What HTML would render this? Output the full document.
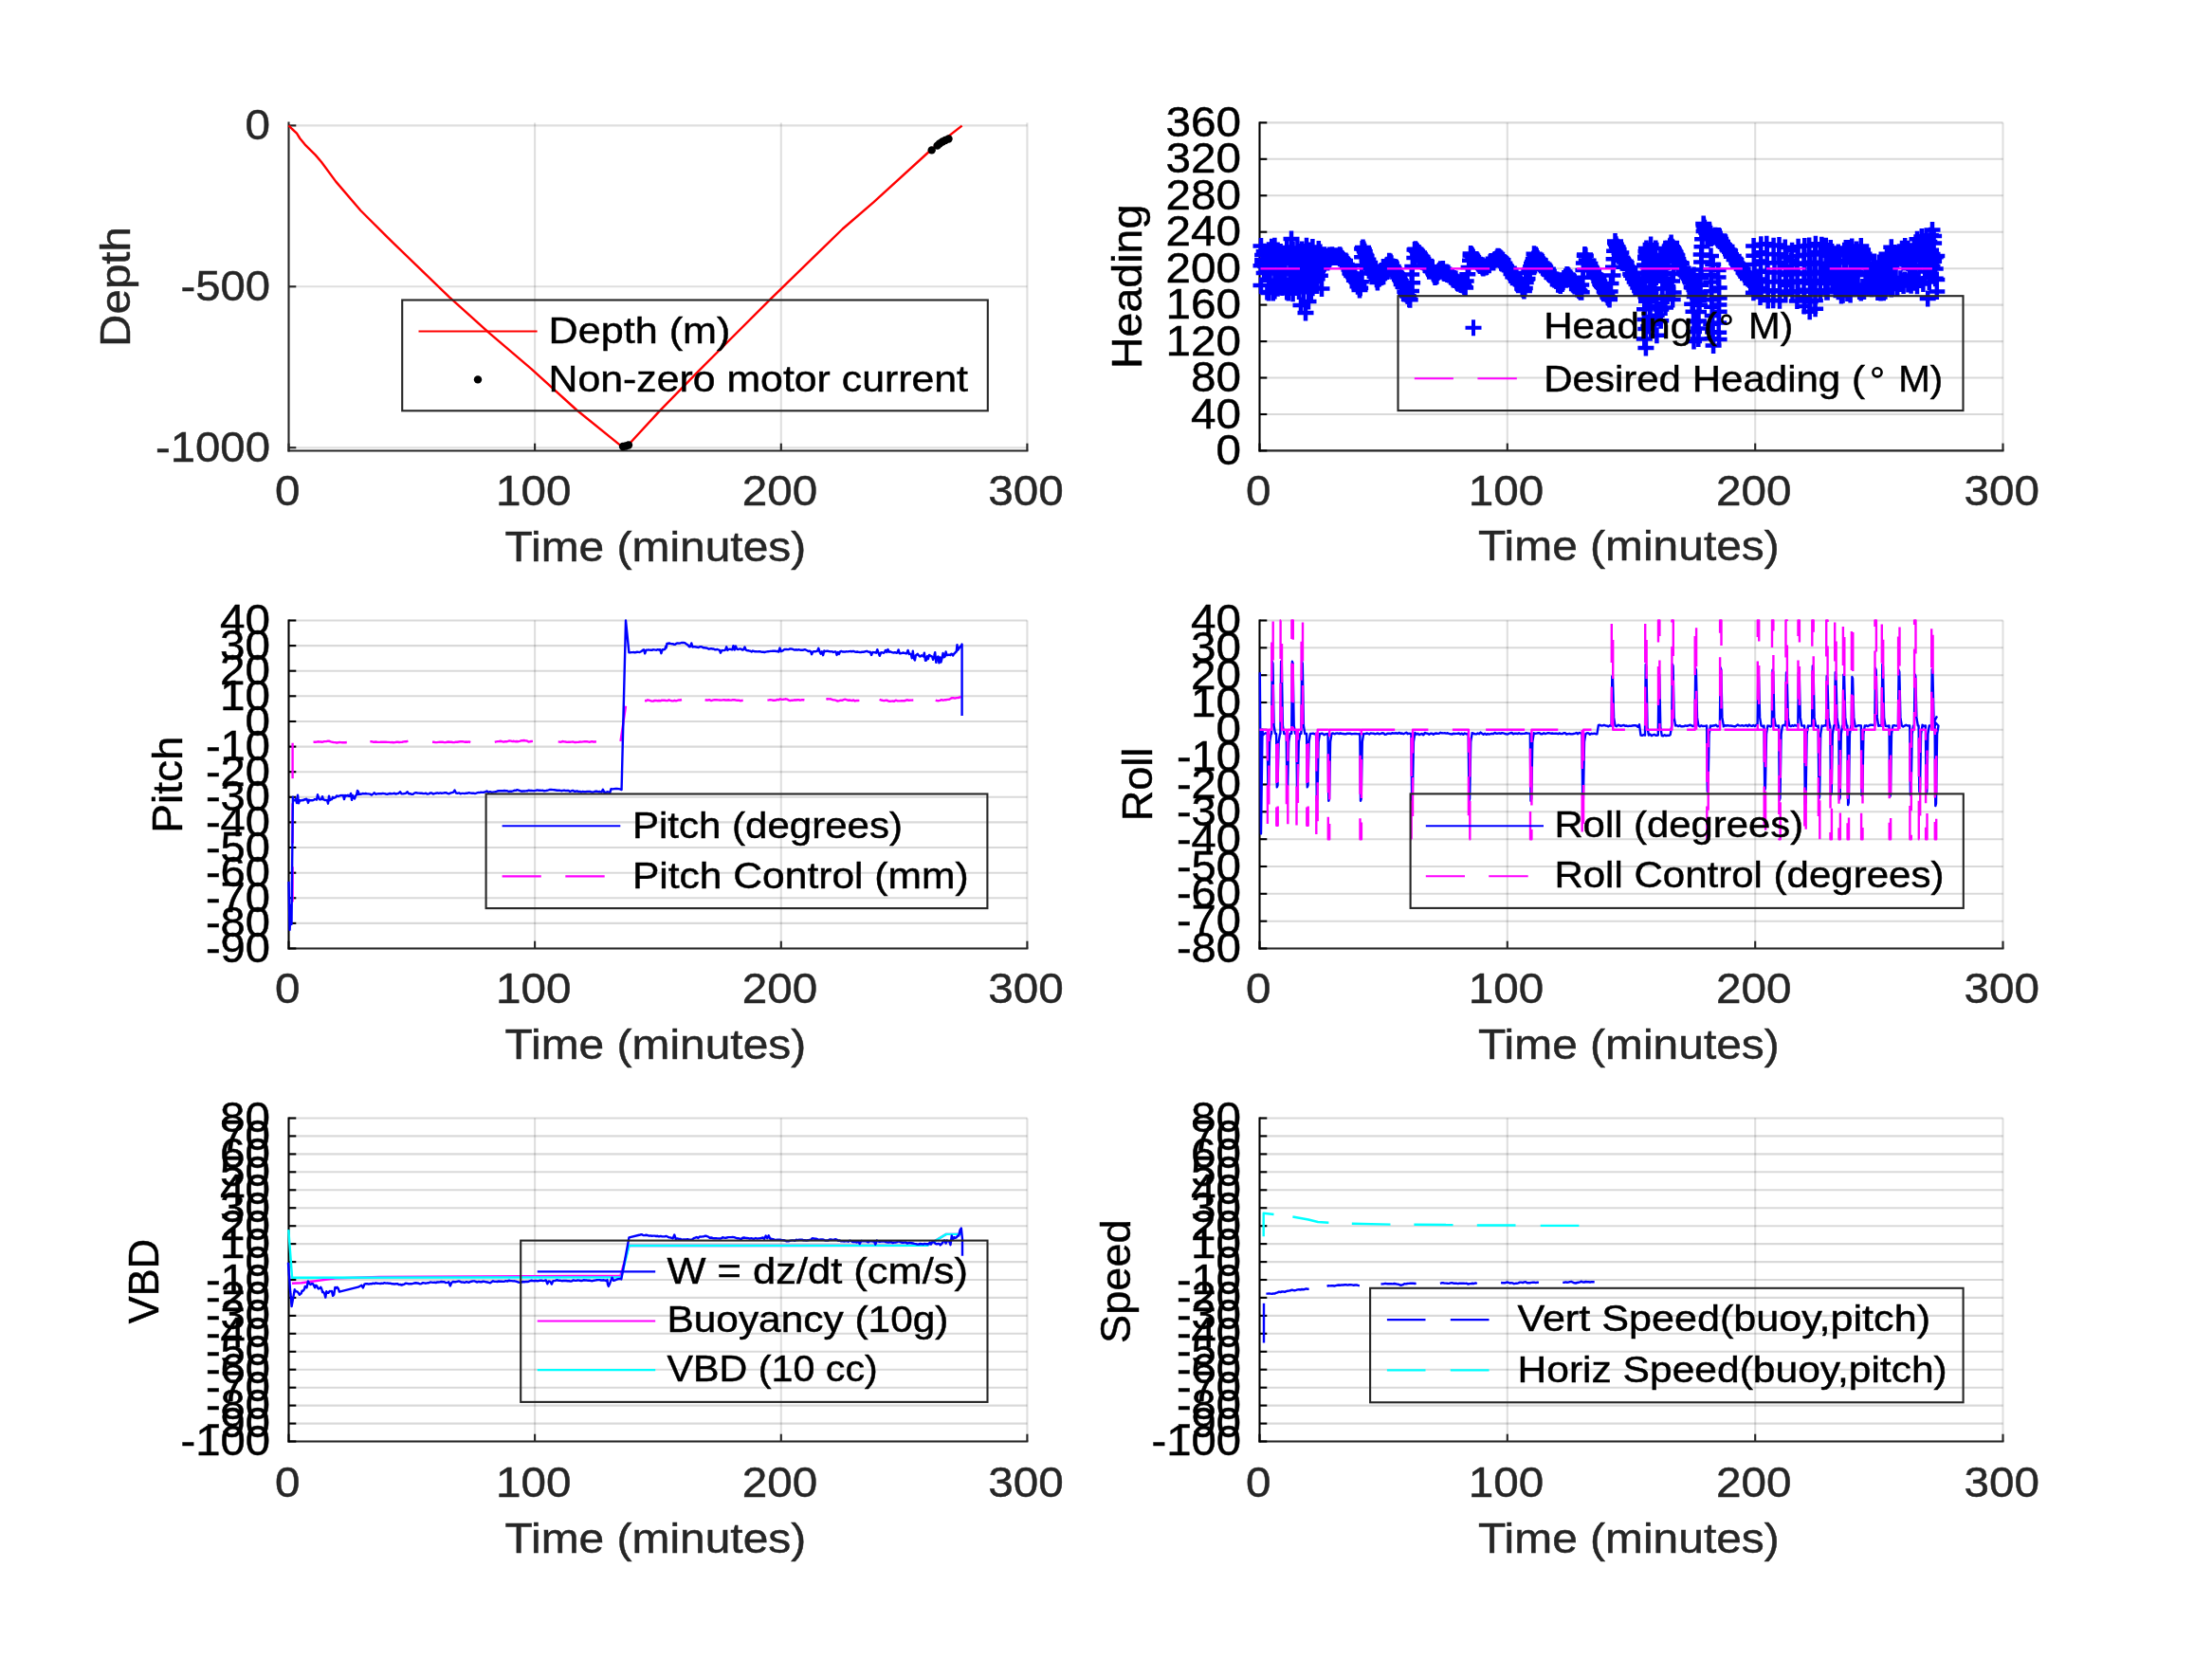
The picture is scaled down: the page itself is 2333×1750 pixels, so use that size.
<!DOCTYPE html>
<html><head><meta charset="utf-8"><style>html,body{margin:0;padding:0;background:#fff;width:2333px;height:1750px;overflow:hidden}svg{display:block}text{font-family:"Liberation Sans",sans-serif}</style></head><body>
<svg style="will-change:transform" width="2333" height="1750" viewBox="0 0 2333 1750" font-family="Liberation Sans, sans-serif">
<rect width="2333" height="1750" fill="#fff"/>
<line x1="564.1" y1="129.4" x2="564.1" y2="475.5" stroke="#262626" stroke-width="2.1" stroke-opacity="0.15"/>
<line x1="823.8" y1="129.4" x2="823.8" y2="475.5" stroke="#262626" stroke-width="2.1" stroke-opacity="0.15"/>
<line x1="1083.4" y1="129.4" x2="1083.4" y2="475.5" stroke="#262626" stroke-width="2.1" stroke-opacity="0.15"/>
<line x1="304.5" y1="132.4" x2="1083.4" y2="132.4" stroke="#262626" stroke-width="2.1" stroke-opacity="0.15"/>
<line x1="304.5" y1="302.3" x2="1083.4" y2="302.3" stroke="#262626" stroke-width="2.1" stroke-opacity="0.15"/>
<line x1="304.5" y1="472.2" x2="1083.4" y2="472.2" stroke="#262626" stroke-width="2.1" stroke-opacity="0.15"/>
<line x1="303.5" y1="475.5" x2="1084.4" y2="475.5" stroke="#262626" stroke-width="2.1"/>
<line x1="304.5" y1="475.5" x2="304.5" y2="467.7" stroke="#262626" stroke-width="2.1"/>
<text x="289.9" y="533" font-size="44.2" fill="#262626" stroke="#262626" stroke-width="0.45" textLength="26.5" lengthAdjust="spacingAndGlyphs">0</text>
<line x1="564.1" y1="475.5" x2="564.1" y2="467.7" stroke="#262626" stroke-width="2.1"/>
<text x="523.1" y="533" font-size="44.2" fill="#262626" stroke="#262626" stroke-width="0.45" textLength="79.5" lengthAdjust="spacingAndGlyphs">100</text>
<line x1="823.8" y1="475.5" x2="823.8" y2="467.7" stroke="#262626" stroke-width="2.1"/>
<text x="782.7" y="533" font-size="44.2" fill="#262626" stroke="#262626" stroke-width="0.45" textLength="79.5" lengthAdjust="spacingAndGlyphs">200</text>
<line x1="1083.4" y1="475.5" x2="1083.4" y2="467.7" stroke="#262626" stroke-width="2.1"/>
<text x="1042.3" y="533" font-size="44.2" fill="#262626" stroke="#262626" stroke-width="0.45" textLength="79.5" lengthAdjust="spacingAndGlyphs">300</text>
<text x="532.5" y="591.5" font-size="44.2" fill="#262626" stroke="#262626" stroke-width="0.45" textLength="317.7" lengthAdjust="spacingAndGlyphs">Time (minutes)</text>
<line x1="304.5" y1="128.4" x2="304.5" y2="476.5" stroke="#262626" stroke-width="2.1"/>
<line x1="304.5" y1="132.4" x2="312.3" y2="132.4" stroke="#262626" stroke-width="2.1"/>
<text x="258.5" y="146.9" font-size="44.2" fill="#262626" stroke="#262626" stroke-width="0.45" textLength="26.5" lengthAdjust="spacingAndGlyphs">0</text>
<line x1="304.5" y1="302.3" x2="312.3" y2="302.3" stroke="#262626" stroke-width="2.1"/>
<text x="190.4" y="316.8" font-size="44.2" fill="#262626" stroke="#262626" stroke-width="0.45" textLength="94.6" lengthAdjust="spacingAndGlyphs">-500</text>
<line x1="304.5" y1="472.2" x2="312.3" y2="472.2" stroke="#262626" stroke-width="2.1"/>
<text x="163.9" y="486.7" font-size="44.2" fill="#262626" stroke="#262626" stroke-width="0.45" textLength="121.1" lengthAdjust="spacingAndGlyphs">-1000</text>
<text transform="translate(137 302.4) rotate(-90)" x="-63.5" y="0" font-size="44.2" fill="#262626" stroke="#262626" stroke-width="0.45" textLength="126.9" lengthAdjust="spacingAndGlyphs">Depth</text>
<polyline points="304.5,132.4 308,136 313,140.6 316.3,146 321.7,152.6 332.6,163.4 339.1,171 354.3,191.6 380.3,222 408.5,250.2 473.6,313.2 517,352.2 560.4,389.1 608.2,432.5 653.8,469.4 656,470.5 664.6,467.3 695.6,433.6 736.8,391.3 812.8,315.3 888.7,241.5 921.3,213.3 982,158 1014.6,132.6" fill="none" stroke="#ff0000" stroke-width="2.4" stroke-linejoin="round"/>
<circle cx="657" cy="471" r="4.2" fill="#000"/>
<circle cx="660" cy="470.5" r="4.2" fill="#000"/>
<circle cx="663" cy="469.5" r="4.2" fill="#000"/>
<circle cx="982.7" cy="158.4" r="4.2" fill="#000"/>
<circle cx="988.6" cy="153.6" r="4.2" fill="#000"/>
<circle cx="991" cy="151.5" r="4.2" fill="#000"/>
<circle cx="994" cy="149.5" r="4.2" fill="#000"/>
<circle cx="997" cy="148" r="4.2" fill="#000"/>
<circle cx="1000.5" cy="146.5" r="4.2" fill="#000"/>
<rect x="424.2" y="316.5" width="617.6" height="116.8" fill="none" stroke="#262626" stroke-width="2.1"/>
<line x1="441.5" y1="349.5" x2="566.6" y2="349.5" stroke="#ff0000" stroke-width="2.1"/>
<circle cx="504" cy="400.4" r="4.2" fill="#000"/>
<text x="578.5" y="362.1" font-size="39.7" fill="#000" stroke="#000" stroke-width="0.45" textLength="191.9" lengthAdjust="spacingAndGlyphs">Depth (m)</text>
<text x="578.5" y="412.6" font-size="39.7" fill="#000" stroke="#000" stroke-width="0.45" textLength="442.5" lengthAdjust="spacingAndGlyphs">Non-zero motor current</text>
<line x1="1589.8" y1="129.4" x2="1589.8" y2="475.4" stroke="#262626" stroke-width="2.1" stroke-opacity="0.15"/>
<line x1="1851.2" y1="129.4" x2="1851.2" y2="475.4" stroke="#262626" stroke-width="2.1" stroke-opacity="0.15"/>
<line x1="2112.5" y1="129.4" x2="2112.5" y2="475.4" stroke="#262626" stroke-width="2.1" stroke-opacity="0.15"/>
<line x1="1328.5" y1="129.4" x2="2112.5" y2="129.4" stroke="#000000" stroke-width="2.1" stroke-opacity="0.15"/>
<line x1="1328.5" y1="167.8" x2="2112.5" y2="167.8" stroke="#000000" stroke-width="2.1" stroke-opacity="0.15"/>
<line x1="1328.5" y1="206.3" x2="2112.5" y2="206.3" stroke="#000000" stroke-width="2.1" stroke-opacity="0.15"/>
<line x1="1328.5" y1="244.7" x2="2112.5" y2="244.7" stroke="#000000" stroke-width="2.1" stroke-opacity="0.15"/>
<line x1="1328.5" y1="283.2" x2="2112.5" y2="283.2" stroke="#000000" stroke-width="2.1" stroke-opacity="0.15"/>
<line x1="1328.5" y1="321.6" x2="2112.5" y2="321.6" stroke="#000000" stroke-width="2.1" stroke-opacity="0.15"/>
<line x1="1328.5" y1="360.1" x2="2112.5" y2="360.1" stroke="#000000" stroke-width="2.1" stroke-opacity="0.15"/>
<line x1="1328.5" y1="398.5" x2="2112.5" y2="398.5" stroke="#000000" stroke-width="2.1" stroke-opacity="0.15"/>
<line x1="1328.5" y1="437" x2="2112.5" y2="437" stroke="#000000" stroke-width="2.1" stroke-opacity="0.15"/>
<line x1="1328.5" y1="475.4" x2="2112.5" y2="475.4" stroke="#000000" stroke-width="2.1" stroke-opacity="0.15"/>
<line x1="1327.5" y1="475.4" x2="2113.5" y2="475.4" stroke="#262626" stroke-width="2.1"/>
<line x1="1328.5" y1="475.4" x2="1328.5" y2="467.6" stroke="#262626" stroke-width="2.1"/>
<text x="1313.9" y="532.9" font-size="44.2" fill="#262626" stroke="#262626" stroke-width="0.45" textLength="26.5" lengthAdjust="spacingAndGlyphs">0</text>
<line x1="1589.8" y1="475.4" x2="1589.8" y2="467.6" stroke="#262626" stroke-width="2.1"/>
<text x="1548.8" y="532.9" font-size="44.2" fill="#262626" stroke="#262626" stroke-width="0.45" textLength="79.5" lengthAdjust="spacingAndGlyphs">100</text>
<line x1="1851.2" y1="475.4" x2="1851.2" y2="467.6" stroke="#262626" stroke-width="2.1"/>
<text x="1810.1" y="532.9" font-size="44.2" fill="#262626" stroke="#262626" stroke-width="0.45" textLength="79.5" lengthAdjust="spacingAndGlyphs">200</text>
<line x1="2112.5" y1="475.4" x2="2112.5" y2="467.6" stroke="#262626" stroke-width="2.1"/>
<text x="2071.4" y="532.9" font-size="44.2" fill="#262626" stroke="#262626" stroke-width="0.45" textLength="79.5" lengthAdjust="spacingAndGlyphs">300</text>
<text x="1559.1" y="591.4" font-size="44.2" fill="#262626" stroke="#262626" stroke-width="0.45" textLength="317.7" lengthAdjust="spacingAndGlyphs">Time (minutes)</text>
<line x1="1328.5" y1="128.4" x2="1328.5" y2="476.4" stroke="#000" stroke-width="2.1"/>
<line x1="1328.5" y1="129.4" x2="1336.3" y2="129.4" stroke="#000" stroke-width="2.1"/>
<text x="1229.5" y="143.9" font-size="44.2" fill="#000" stroke="#000" stroke-width="0.45" textLength="79.5" lengthAdjust="spacingAndGlyphs">360</text>
<line x1="1328.5" y1="167.8" x2="1336.3" y2="167.8" stroke="#000" stroke-width="2.1"/>
<text x="1229.5" y="182.3" font-size="44.2" fill="#000" stroke="#000" stroke-width="0.45" textLength="79.5" lengthAdjust="spacingAndGlyphs">320</text>
<line x1="1328.5" y1="206.3" x2="1336.3" y2="206.3" stroke="#000" stroke-width="2.1"/>
<text x="1229.5" y="220.8" font-size="44.2" fill="#000" stroke="#000" stroke-width="0.45" textLength="79.5" lengthAdjust="spacingAndGlyphs">280</text>
<line x1="1328.5" y1="244.7" x2="1336.3" y2="244.7" stroke="#000" stroke-width="2.1"/>
<text x="1229.5" y="259.2" font-size="44.2" fill="#000" stroke="#000" stroke-width="0.45" textLength="79.5" lengthAdjust="spacingAndGlyphs">240</text>
<line x1="1328.5" y1="283.2" x2="1336.3" y2="283.2" stroke="#000" stroke-width="2.1"/>
<text x="1229.5" y="297.7" font-size="44.2" fill="#000" stroke="#000" stroke-width="0.45" textLength="79.5" lengthAdjust="spacingAndGlyphs">200</text>
<line x1="1328.5" y1="321.6" x2="1336.3" y2="321.6" stroke="#000" stroke-width="2.1"/>
<text x="1229.5" y="336.1" font-size="44.2" fill="#000" stroke="#000" stroke-width="0.45" textLength="79.5" lengthAdjust="spacingAndGlyphs">160</text>
<line x1="1328.5" y1="360.1" x2="1336.3" y2="360.1" stroke="#000" stroke-width="2.1"/>
<text x="1229.5" y="374.6" font-size="44.2" fill="#000" stroke="#000" stroke-width="0.45" textLength="79.5" lengthAdjust="spacingAndGlyphs">120</text>
<line x1="1328.5" y1="398.5" x2="1336.3" y2="398.5" stroke="#000" stroke-width="2.1"/>
<text x="1256" y="413" font-size="44.2" fill="#000" stroke="#000" stroke-width="0.45" textLength="53" lengthAdjust="spacingAndGlyphs">80</text>
<line x1="1328.5" y1="437" x2="1336.3" y2="437" stroke="#000" stroke-width="2.1"/>
<text x="1256" y="451.5" font-size="44.2" fill="#000" stroke="#000" stroke-width="0.45" textLength="53" lengthAdjust="spacingAndGlyphs">40</text>
<line x1="1328.5" y1="475.4" x2="1336.3" y2="475.4" stroke="#000" stroke-width="2.1"/>
<text x="1282.5" y="489.9" font-size="44.2" fill="#000" stroke="#000" stroke-width="0.45" textLength="26.5" lengthAdjust="spacingAndGlyphs">0</text>
<text transform="translate(1204.3 302.4) rotate(-90)" x="-86.7" y="0" font-size="44.2" fill="#000" stroke="#000" stroke-width="0.45" textLength="173.4" lengthAdjust="spacingAndGlyphs">Heading</text>
<path d="M1321.5 280.2h17M1330 271.7v17M1321.5 259.5h17M1330 251v17M1321.5 301.1h17M1330 292.6v17M1323.1 274.2h17M1331.6 265.7v17M1323.1 277.8h17M1331.6 269.3v17M1323.1 268.9h17M1331.6 260.4v17M1324.7 287.9h17M1333.2 279.4v17M1324.7 267.2h17M1333.2 258.7v17M1324.7 265.3h17M1333.2 256.8v17M1326.3 281.1h17M1334.8 272.6v17M1326.3 287.7h17M1334.8 279.2v17M1326.3 267.9h17M1334.8 259.4v17M1327.9 287.2h17M1336.4 278.7v17M1327.9 277.1h17M1336.4 268.6v17M1327.9 307.9h17M1336.4 299.4v17M1329.5 263.7h17M1338 255.2v17M1329.5 308.9h17M1338 300.4v17M1329.5 280h17M1338 271.5v17M1331.1 284.7h17M1339.6 276.2v17M1331.1 266.6h17M1339.6 258.1v17M1331.1 295.7h17M1339.6 287.2v17M1332.7 268.7h17M1341.2 260.2v17M1332.7 276.4h17M1341.2 267.9v17M1332.7 260.2h17M1341.2 251.7v17M1334.3 276.3h17M1342.8 267.8v17M1334.3 308.3h17M1342.8 299.8v17M1334.3 308.9h17M1342.8 300.4v17M1335.9 297h17M1344.4 288.5v17M1335.9 259.2h17M1344.4 250.7v17M1335.9 307h17M1344.4 298.5v17M1337.5 303.4h17M1346 294.9v17M1337.5 298.3h17M1346 289.8v17M1337.5 268.1h17M1346 259.6v17M1339.1 264.1h17M1347.6 255.6v17M1339.1 280.1h17M1347.6 271.6v17M1339.1 304.2h17M1347.6 295.7v17M1340.7 288.5h17M1349.2 280v17M1340.7 296.6h17M1349.2 288.1v17M1340.7 270.9h17M1349.2 262.4v17M1342.3 285.7h17M1350.8 277.2v17M1342.3 295.2h17M1350.8 286.7v17M1342.3 301.1h17M1350.8 292.6v17M1343.9 300.2h17M1352.4 291.7v17M1343.9 270.8h17M1352.4 262.3v17M1343.9 303.5h17M1352.4 295v17M1345.5 270h17M1354 261.5v17M1345.5 299.9h17M1354 291.4v17M1345.5 287.3h17M1354 278.8v17M1347.1 268.5h17M1355.6 260v17M1347.1 289h17M1355.6 280.5v17M1347.1 285.4h17M1355.6 276.9v17M1348.7 307.9h17M1357.2 299.4v17M1348.7 261.1h17M1357.2 252.6v17M1348.7 267.4h17M1357.2 258.9v17M1350.3 309.1h17M1358.8 300.6v17M1350.3 301.4h17M1358.8 292.9v17M1350.3 266.7h17M1358.8 258.2v17M1351.9 270.7h17M1360.4 262.2v17M1351.9 286.5h17M1360.4 278v17M1351.9 267h17M1360.4 258.5v17M1353.5 275.5h17M1362 267v17M1353.5 261.5h17M1362 253v17M1353.5 295.3h17M1362 286.8v17M1355.1 263h17M1363.6 254.5v17M1355.1 309.7h17M1363.6 301.2v17M1355.1 305.9h17M1363.6 297.4v17M1356.7 299.2h17M1365.2 290.7v17M1356.7 298.4h17M1365.2 289.9v17M1356.7 277.8h17M1365.2 269.3v17M1358.3 293.6h17M1366.8 285.1v17M1358.3 297.8h17M1366.8 289.3v17M1358.3 283.5h17M1366.8 275v17M1359.9 262.1h17M1368.4 253.6v17M1359.9 290.9h17M1368.4 282.4v17M1359.9 275.6h17M1368.4 267.1v17M1361.5 290.1h17M1370 281.6v17M1361.5 280.5h17M1370 272v17M1361.5 307.6h17M1370 299.1v17M1363.1 269.3h17M1371.6 260.8v17M1363.1 298.2h17M1371.6 289.7v17M1363.1 294.6h17M1371.6 286.1v17M1364.7 287.4h17M1373.2 278.9v17M1364.7 263.1h17M1373.2 254.6v17M1364.7 267.4h17M1373.2 258.9v17M1366.3 308.3h17M1374.8 299.8v17M1366.3 270.8h17M1374.8 262.3v17M1366.3 267.3h17M1374.8 258.8v17M1367.9 273.7h17M1376.4 265.2v17M1367.9 286.4h17M1376.4 277.9v17M1367.9 285.5h17M1376.4 277v17M1369.5 259.2h17M1378 250.7v17M1369.5 259.2h17M1378 250.7v17M1369.5 284.3h17M1378 275.8v17M1371.1 268.4h17M1379.6 259.9v17M1371.1 290h17M1379.6 281.5v17M1371.1 299.7h17M1379.6 291.2v17M1372.7 263.9h17M1381.2 255.4v17M1372.7 284.8h17M1381.2 276.3v17M1372.7 279.7h17M1381.2 271.2v17M1374.3 299.3h17M1382.8 290.8v17M1374.3 307.7h17M1382.8 299.2v17M1374.3 280.3h17M1382.8 271.8v17M1375.9 271.4h17M1384.4 262.9v17M1375.9 303.8h17M1384.4 295.3v17M1375.9 260.4h17M1384.4 251.9v17M1377.5 275.9h17M1386 267.4v17M1377.5 279.1h17M1386 270.6v17M1377.5 268.1h17M1386 259.6v17M1379.1 293.7h17M1387.6 285.2v17M1379.1 285.4h17M1387.6 276.9v17M1379.1 271.7h17M1387.6 263.2v17M1380.7 280.1h17M1389.2 271.6v17M1380.7 294.3h17M1389.2 285.8v17M1380.7 275.6h17M1389.2 267.1v17M1382.3 262.5h17M1390.8 254v17M1382.3 282.5h17M1390.8 274v17M1382.3 268.9h17M1390.8 260.4v17M1383.9 290.7h17M1392.4 282.2v17M1383.9 269.3h17M1392.4 260.8v17M1383.9 265.9h17M1392.4 257.4v17M1385.5 304.6h17M1394 296.1v17M1385.5 275.8h17M1394 267.3v17M1385.5 273.9h17M1394 265.4v17M1368.5 330h17M1377 321.5v17M1363.5 322h17M1372 313.5v17M1371.5 318h17M1380 309.5v17M1353.5 252h17M1362 243.5v17M1385.5 283.2h17M1394 274.7v17M1386.4 281.8h17M1394.9 273.3v17M1387.3 279.7h17M1395.8 271.2v17M1388.2 278.2h17M1396.7 269.7v17M1389.1 274.1h17M1397.6 265.6v17M1390 272.7h17M1398.5 264.2v17M1390.9 270.5h17M1399.4 262v17M1391.1 270.7h17M1399.6 262.2v17M1392 270.9h17M1400.5 262.4v17M1392.9 271.1h17M1401.4 262.6v17M1393.8 268.9h17M1402.3 260.4v17M1394.7 270.1h17M1403.2 261.6v17M1395.6 271.4h17M1404.1 262.9v17M1396.5 268.7h17M1405 260.2v17M1397.4 271.6h17M1405.9 263.1v17M1398.3 271.3h17M1406.8 262.8v17M1399.2 270.2h17M1407.7 261.7v17M1400.1 270.4h17M1408.6 261.9v17M1401 269.7h17M1409.5 261.2v17M1401.9 271.5h17M1410.4 263v17M1402.8 270.5h17M1411.3 262v17M1403.7 269.7h17M1412.2 261.2v17M1404.6 268.7h17M1413.1 260.2v17M1405.5 270h17M1414 261.5v17M1406.4 272.3h17M1414.9 263.8v17M1407.3 272.9h17M1415.8 264.4v17M1408.2 274.3h17M1416.7 265.8v17M1409.1 277.1h17M1417.6 268.6v17M1410 275.1h17M1418.5 266.6v17M1410.9 279h17M1419.4 270.5v17M1411.8 278.9h17M1420.3 270.4v17M1412.7 281.4h17M1421.2 272.9v17M1413.6 282.1h17M1422.1 273.6v17M1414.5 284.4h17M1423 275.9v17M1415.4 288.2h17M1423.9 279.7v17M1416.3 289.1h17M1424.8 280.6v17M1417.2 291.1h17M1425.7 282.6v17M1418.1 289.7h17M1426.6 281.2v17M1419 292.2h17M1427.5 283.7v17M1419.9 295.7h17M1428.4 287.2v17M1420.8 294.3h17M1429.3 285.8v17M1421.7 296.5h17M1430.2 288v17M1422.6 297.7h17M1431.1 289.2v17M1423.5 302.2h17M1432 293.7v17M1424.4 301.5h17M1432.9 293v17M1425.3 303.8h17M1433.8 295.3v17M1426.2 303.8h17M1434.7 295.3v17M1425.5 305.9h17M1434 297.4v17M1426.9 297.2h17M1435.4 288.7v17M1428 288.5h17M1436.5 280v17M1427.6 279.9h17M1436.1 271.4v17M1428.1 271.2h17M1436.6 262.7v17M1428.1 262.5h17M1436.6 254v17M1429 260.9h17M1437.5 252.4v17M1429.9 263.1h17M1438.4 254.6v17M1430.8 265.3h17M1439.3 256.8v17M1431.7 268.8h17M1440.2 260.3v17M1432.6 270h17M1441.1 261.5v17M1433.5 274.5h17M1442 266v17M1434.4 273.7h17M1442.9 265.2v17M1435.3 278h17M1443.8 269.5v17M1436.2 277h17M1444.7 268.5v17M1437.1 280.7h17M1445.6 272.2v17M1438 282.8h17M1446.5 274.3v17M1438.9 285.2h17M1447.4 276.7v17M1439.8 286.3h17M1448.3 277.8v17M1440.7 288.7h17M1449.2 280.2v17M1441.6 291.8h17M1450.1 283.3v17M1442.5 291.3h17M1451 282.8v17M1443.4 294.8h17M1451.9 286.3v17M1444.3 297h17M1452.8 288.5v17M1444.4 298h17M1452.9 289.5v17M1445.3 294.3h17M1453.8 285.8v17M1446.2 294.1h17M1454.7 285.6v17M1447.1 291.3h17M1455.6 282.8v17M1448 292.7h17M1456.5 284.2v17M1448.9 292.3h17M1457.4 283.8v17M1449.5 289.4h17M1458 280.9v17M1450.4 289.6h17M1458.9 281.1v17M1451.3 287.3h17M1459.8 278.8v17M1452.2 283.1h17M1460.7 274.6v17M1453.1 283.2h17M1461.6 274.7v17M1454 279.9h17M1462.5 271.4v17M1454.9 279.3h17M1463.4 270.8v17M1455.8 279.6h17M1464.3 271.1v17M1456.7 275.2h17M1465.2 266.7v17M1457.1 276.3h17M1465.6 267.8v17M1458 275.9h17M1466.5 267.4v17M1458.9 277.7h17M1467.4 269.2v17M1459.8 282.8h17M1468.3 274.3v17M1460.7 281h17M1469.2 272.5v17M1461.6 282.9h17M1470.1 274.4v17M1462.5 287.7h17M1471 279.2v17M1463.4 286.8h17M1471.9 278.3v17M1464.3 288.1h17M1472.8 279.6v17M1465.2 289.2h17M1473.7 280.7v17M1466.1 292.5h17M1474.6 284v17M1467 292.4h17M1475.5 283.9v17M1467.9 294.7h17M1476.4 286.2v17M1468.8 296.3h17M1477.3 287.8v17M1469.7 300.1h17M1478.2 291.6v17M1470.6 299.4h17M1479.1 290.9v17M1471.5 302.8h17M1480 294.3v17M1472.4 303h17M1480.9 294.5v17M1473.3 307.7h17M1481.8 299.2v17M1474.2 309.3h17M1482.7 300.8v17M1475.1 310.7h17M1483.6 302.2v17M1476 312.3h17M1484.5 303.8v17M1476.9 312.5h17M1485.4 304v17M1477.8 315.7h17M1486.3 307.2v17M1478.7 316.2h17M1487.2 307.7v17M1478.1 315.8h17M1486.6 307.3v17M1480 307.1h17M1488.5 298.6v17M1481.1 298.3h17M1489.6 289.8v17M1480.2 289.6h17M1488.7 281.1v17M1481.3 280.9h17M1489.8 272.4v17M1483.3 272.1h17M1491.8 263.6v17M1484 263.4h17M1492.5 254.9v17M1483.5 263.6h17M1492 255.1v17M1484.4 262.7h17M1492.9 254.2v17M1485.3 264.1h17M1493.8 255.6v17M1486.2 264.9h17M1494.7 256.4v17M1487.1 268.7h17M1495.6 260.2v17M1488 266.5h17M1496.5 258v17M1488.9 267.9h17M1497.4 259.4v17M1489.8 270.1h17M1498.3 261.6v17M1490.7 270.8h17M1499.2 262.3v17M1491.5 271.1h17M1500 262.6v17M1492.4 272.9h17M1500.9 264.4v17M1493.3 275.2h17M1501.8 266.7v17M1494.2 276.8h17M1502.7 268.3v17M1495.1 275h17M1503.6 266.5v17M1496 276.1h17M1504.5 267.6v17M1496.9 281.1h17M1505.4 272.6v17M1497.8 282.5h17M1506.3 274v17M1498.7 281.7h17M1507.2 273.2v17M1499.6 283.2h17M1508.1 274.7v17M1500.5 285.8h17M1509 277.3v17M1501.4 286.2h17M1509.9 277.7v17M1502.3 286.3h17M1510.8 277.8v17M1503.2 288.3h17M1511.7 279.8v17M1504.1 289.9h17M1512.6 281.4v17M1505 292.4h17M1513.5 283.9v17M1505.1 291h17M1513.6 282.5v17M1506 291.8h17M1514.5 283.3v17M1506.9 291.3h17M1515.4 282.8v17M1507.8 287.5h17M1516.3 279v17M1508.7 286.8h17M1517.2 278.3v17M1509.6 285.6h17M1518.1 277.1v17M1510.5 284.8h17M1519 276.3v17M1510.7 283.8h17M1519.2 275.3v17M1511.6 284.1h17M1520.1 275.6v17M1512.5 285.6h17M1521 277.1v17M1513.4 283.5h17M1521.9 275v17M1514.3 287.9h17M1522.8 279.4v17M1515.2 288.4h17M1523.7 279.9v17M1516.1 288.3h17M1524.6 279.8v17M1517 287h17M1525.5 278.5v17M1517.9 289.4h17M1526.4 280.9v17M1518.8 287.7h17M1527.3 279.2v17M1519.7 289.9h17M1528.2 281.4v17M1520.6 289.9h17M1529.1 281.4v17M1521.5 292h17M1530 283.5v17M1522.4 291.4h17M1530.9 282.9v17M1523.3 291.5h17M1531.8 283v17M1524.2 295h17M1532.7 286.5v17M1525.1 293.5h17M1533.6 285v17M1526 295.5h17M1534.5 287v17M1526.9 294h17M1535.4 285.5v17M1527.8 296.9h17M1536.3 288.4v17M1528.7 298.5h17M1537.2 290v17M1529.6 299.2h17M1538.1 290.7v17M1530.5 298.1h17M1539 289.6v17M1531.4 298h17M1539.9 289.5v17M1532.3 300.6h17M1540.8 292.1v17M1533.2 300.1h17M1541.7 291.6v17M1534.1 300.7h17M1542.6 292.2v17M1535 301.1h17M1543.5 292.6v17M1535.9 302.5h17M1544.4 294v17M1537.1 303.6h17M1545.6 295.1v17M1537.7 296.4h17M1546.2 287.9v17M1539.3 289.2h17M1547.8 280.7v17M1540.6 281.9h17M1549.1 273.4v17M1542 274.7h17M1550.5 266.2v17M1542.6 267.5h17M1551.1 259v17M1542.5 269.5h17M1551 261v17M1543.4 268.6h17M1551.9 260.1v17M1544.3 269.8h17M1552.8 261.3v17M1545.2 271.3h17M1553.7 262.8v17M1546.1 273.6h17M1554.6 265.1v17M1547 273.6h17M1555.5 265.1v17M1547.9 275.5h17M1556.4 267v17M1548.8 273.6h17M1557.3 265.1v17M1549.7 275.7h17M1558.2 267.2v17M1550.6 277.9h17M1559.1 269.4v17M1551.5 279h17M1560 270.5v17M1552.4 280.5h17M1560.9 272v17M1553.3 279.3h17M1561.8 270.8v17M1554.2 280.6h17M1562.7 272.1v17M1555.1 282h17M1563.6 273.5v17M1555.9 282.9h17M1564.4 274.4v17M1556.8 281h17M1565.3 272.5v17M1557.7 281.5h17M1566.2 273v17M1558.6 281.9h17M1567.1 273.4v17M1559.5 281.6h17M1568 273.1v17M1560.4 278.9h17M1568.9 270.4v17M1561.3 279.8h17M1569.8 271.3v17M1562.2 279.7h17M1570.7 271.2v17M1563.1 276.7h17M1571.6 268.2v17M1564 275.4h17M1572.5 266.9v17M1564.9 275.4h17M1573.4 266.9v17M1565.8 276.8h17M1574.3 268.3v17M1566.7 277.1h17M1575.2 268.6v17M1567.6 274.3h17M1576.1 265.8v17M1568.5 273.4h17M1577 264.9v17M1569.4 274h17M1577.9 265.5v17M1570.3 272.1h17M1578.8 263.6v17M1571.2 270.3h17M1579.7 261.8v17M1572.1 270.5h17M1580.6 262v17M1572.9 271.3h17M1581.4 262.8v17M1573.8 271.9h17M1582.3 263.4v17M1574.7 272.7h17M1583.2 264.2v17M1575.6 274.1h17M1584.1 265.6v17M1576.5 274.3h17M1585 265.8v17M1577.4 278h17M1585.9 269.5v17M1578.3 277.7h17M1586.8 269.2v17M1579.2 280.1h17M1587.7 271.6v17M1580.1 280.9h17M1588.6 272.4v17M1581 283.4h17M1589.5 274.9v17M1581.9 284.2h17M1590.4 275.7v17M1582.8 282.8h17M1591.3 274.3v17M1583.7 285.2h17M1592.2 276.7v17M1584.6 284.7h17M1593.1 276.2v17M1585.5 288.9h17M1594 280.4v17M1586.4 288h17M1594.9 279.5v17M1587.3 292.2h17M1595.8 283.7v17M1588.2 290.4h17M1596.7 281.9v17M1589.1 292.7h17M1597.6 284.2v17M1590 293.9h17M1598.5 285.4v17M1590.9 296.4h17M1599.4 287.9v17M1591.8 296.7h17M1600.3 288.2v17M1592.7 299.1h17M1601.2 290.6v17M1593.6 298h17M1602.1 289.5v17M1594.5 298.4h17M1603 289.9v17M1595.4 299.9h17M1603.9 291.4v17M1596.3 300.6h17M1604.8 292.1v17M1597.2 304.4h17M1605.7 295.9v17M1598.1 305.6h17M1606.6 297.1v17M1598.9 306.9h17M1607.4 298.4v17M1599.8 303.9h17M1608.3 295.4v17M1600.7 298.1h17M1609.2 289.6v17M1601.6 294.7h17M1610.1 286.2v17M1602.5 293.9h17M1611 285.4v17M1603.4 288.1h17M1611.9 279.6v17M1604.3 286.2h17M1612.8 277.7v17M1605.2 284.1h17M1613.7 275.6v17M1606.1 281.2h17M1614.6 272.7v17M1607 277.9h17M1615.5 269.4v17M1607.9 276h17M1616.4 267.5v17M1608.8 273h17M1617.3 264.5v17M1609.5 267.8h17M1618 259.3v17M1610.4 268.9h17M1618.9 260.4v17M1611.3 268.8h17M1619.8 260.3v17M1612.2 270.3h17M1620.7 261.8v17M1613.1 272.6h17M1621.6 264.1v17M1614 274.5h17M1622.5 266v17M1614.9 273.9h17M1623.4 265.4v17M1615.8 274.4h17M1624.3 265.9v17M1616.7 277.8h17M1625.2 269.3v17M1617.6 278.8h17M1626.1 270.3v17M1618.5 279.2h17M1627 270.7v17M1619.4 278.8h17M1627.9 270.3v17M1620.3 280.1h17M1628.8 271.6v17M1621.2 281.5h17M1629.7 273v17M1622.1 284.9h17M1630.6 276.4v17M1623 286.2h17M1631.5 277.7v17M1623.9 283.8h17M1632.4 275.3v17M1624.8 288.4h17M1633.3 279.9v17M1625.7 289.4h17M1634.2 280.9v17M1626.6 289.9h17M1635.1 281.4v17M1627.5 288.8h17M1636 280.3v17M1628.4 292.8h17M1636.9 284.3v17M1629.3 293.2h17M1637.8 284.7v17M1630.2 291.6h17M1638.7 283.1v17M1631.1 292.2h17M1639.6 283.7v17M1632 294.7h17M1640.5 286.2v17M1632.9 296.5h17M1641.4 288v17M1633.8 295.4h17M1642.3 286.9v17M1634.7 300.2h17M1643.2 291.7v17M1635.6 300.1h17M1644.1 291.6v17M1636.5 300.5h17M1645 292v17M1637.3 301.4h17M1645.8 292.9v17M1638.2 298.3h17M1646.7 289.8v17M1639.1 299.4h17M1647.6 290.9v17M1640 297.8h17M1648.5 289.3v17M1640.9 293.5h17M1649.4 285v17M1641.8 295.1h17M1650.3 286.6v17M1642.7 291.8h17M1651.2 283.3v17M1643.6 292.6h17M1652.1 284.1v17M1644.1 289.4h17M1652.6 280.9v17M1645 290h17M1653.5 281.5v17M1645.9 291h17M1654.4 282.5v17M1646.8 292.7h17M1655.3 284.2v17M1647.7 292.7h17M1656.2 284.2v17M1648.6 294.2h17M1657.1 285.7v17M1649.5 296.6h17M1658 288.1v17M1650.4 298h17M1658.9 289.5v17M1651.3 299.1h17M1659.8 290.6v17M1652.2 298.6h17M1660.7 290.1v17M1653.1 299.2h17M1661.6 290.7v17M1654 300.8h17M1662.5 292.3v17M1654.9 305h17M1663.4 296.5v17M1655.8 303h17M1664.3 294.5v17M1656.7 306.3h17M1665.2 297.8v17M1657.6 306.9h17M1666.1 298.4v17M1658.5 308.2h17M1667 299.7v17M1659.7 308.2h17M1668.2 299.7v17M1659.2 300.5h17M1667.7 292v17M1660.9 292.8h17M1669.4 284.3v17M1661.4 285.1h17M1669.9 276.6v17M1661.9 277.4h17M1670.4 268.9v17M1662.8 269.7h17M1671.3 261.2v17M1663 268.5h17M1671.5 260v17M1663.9 269.7h17M1672.4 261.2v17M1664.8 274.6h17M1673.3 266.1v17M1665.7 275h17M1674.2 266.5v17M1666.6 274.7h17M1675.1 266.2v17M1667.5 278.8h17M1676 270.3v17M1668.4 277.9h17M1676.9 269.4v17M1669.3 281.4h17M1677.8 272.9v17M1670.2 282.7h17M1678.7 274.2v17M1671.1 285.1h17M1679.6 276.6v17M1672 285.2h17M1680.5 276.7v17M1672.9 288.9h17M1681.4 280.4v17M1673.8 289.6h17M1682.3 281.1v17M1674.7 290.1h17M1683.2 281.6v17M1675.6 290.4h17M1684.1 281.9v17M1676.5 292.5h17M1685 284v17M1677.4 293.6h17M1685.9 285.1v17M1678.3 296.7h17M1686.8 288.2v17M1679.2 299.4h17M1687.7 290.9v17M1680.1 300.8h17M1688.6 292.3v17M1681 301.9h17M1689.5 293.4v17M1681.9 302.7h17M1690.4 294.2v17M1682.8 303.7h17M1691.3 295.2v17M1683.7 307.4h17M1692.2 298.9v17M1684.6 308.4h17M1693.1 299.9v17M1685.5 310h17M1694 301.5v17M1686.4 311.1h17M1694.9 302.6v17M1687.3 313.6h17M1695.8 305.1v17M1688.2 314.4h17M1696.7 305.9v17M1689.1 314.7h17M1697.6 306.2v17M1689 316h17M1697.5 307.5v17M1689.7 307.5h17M1698.2 299v17M1690.5 298.9h17M1699 290.4v17M1692.5 290.4h17M1701 281.9v17M1693 281.8h17M1701.5 273.3v17M1693.6 273.3h17M1702.1 264.8v17M1694.1 264.7h17M1702.6 256.2v17M1695 256.2h17M1703.5 247.7v17M1695 254.6h17M1703.5 246.1v17M1695.9 257.8h17M1704.4 249.3v17M1696.8 260h17M1705.3 251.5v17M1697.7 260.8h17M1706.2 252.3v17M1698.6 263.1h17M1707.1 254.6v17M1699.5 266.8h17M1708 258.3v17M1700.4 268.2h17M1708.9 259.7v17M1701.3 266.6h17M1709.8 258.1v17M1702.2 271.8h17M1710.7 263.3v17M1703.1 272.9h17M1711.6 264.4v17M1704 274.7h17M1712.5 266.2v17M1704.9 276.4h17M1713.4 267.9v17M1705.8 275.8h17M1714.3 267.3v17M1706.7 277.2h17M1715.2 268.7v17M1707.6 281h17M1716.1 272.5v17M1708.5 283.5h17M1717 275v17M1709.4 282.3h17M1717.9 273.8v17M1710.3 283.7h17M1718.8 275.2v17M1711.2 289.1h17M1719.7 280.6v17M1712.1 290.7h17M1720.6 282.2v17M1713 289.8h17M1721.5 281.3v17M1713.9 293.8h17M1722.4 285.3v17M1714.8 293.4h17M1723.3 284.9v17M1715.7 297.4h17M1724.2 288.9v17M1716.6 295.8h17M1725.1 287.3v17M1717.5 299.9h17M1726 291.4v17M1718.4 300.1h17M1726.9 291.6v17M1719.3 303.4h17M1727.8 294.9v17M1720.2 302.7h17M1728.7 294.2v17M1721.1 307h17M1729.6 298.5v17M1722 306.5h17M1730.5 298v17M1722.9 309.6h17M1731.4 301.1v17M1722.3 310.4h17M1730.8 301.9v17M1723.7 302.9h17M1732.2 294.4v17M1723.9 295.3h17M1732.4 286.8v17M1725 287.8h17M1733.5 279.3v17M1726 280.3h17M1734.5 271.8v17M1727.1 272.7h17M1735.6 264.2v17M1727.8 265.2h17M1736.3 256.7v17M1727.5 265.3h17M1736 256.8v17M1728.4 269.6h17M1736.9 261.1v17M1729.3 270.8h17M1737.8 262.3v17M1730.2 272.7h17M1738.7 264.2v17M1731.1 277.9h17M1739.6 269.4v17M1732 279.5h17M1740.5 271v17M1732.9 284.8h17M1741.4 276.3v17M1733.8 285.6h17M1742.3 277.1v17M1734.7 287.1h17M1743.2 278.6v17M1735.6 291.4h17M1744.1 282.9v17M1736.5 296.8h17M1745 288.3v17M1737.4 293h17M1745.9 284.5v17M1738.3 292.5h17M1746.8 284v17M1739.2 288.8h17M1747.7 280.3v17M1740.1 287.9h17M1748.6 279.4v17M1741 283.8h17M1749.5 275.3v17M1741.9 282.5h17M1750.4 274v17M1742.8 280.2h17M1751.3 271.7v17M1743.7 279.5h17M1752.2 271v17M1744.6 277.3h17M1753.1 268.8v17M1745.5 276.3h17M1754 267.8v17M1746.4 274.8h17M1754.9 266.3v17M1747.3 271.3h17M1755.8 262.8v17M1748.2 269.5h17M1756.7 261v17M1749.1 266.6h17M1757.6 258.1v17M1750 265.1h17M1758.5 256.6v17M1750.9 264.3h17M1759.4 255.8v17M1751.8 264.4h17M1760.3 255.9v17M1752.7 259.7h17M1761.2 251.2v17M1753.6 258.7h17M1762.1 250.2v17M1754.1 256.1h17M1762.6 247.6v17M1755 260.2h17M1763.5 251.7v17M1755.9 261.3h17M1764.4 252.8v17M1756.8 262.7h17M1765.3 254.2v17M1757.7 264.8h17M1766.2 256.3v17M1758.6 266.1h17M1767.1 257.6v17M1759.5 268.5h17M1768 260v17M1760.4 269.4h17M1768.9 260.9v17M1761.3 273.3h17M1769.8 264.8v17M1762.2 276h17M1770.7 267.5v17M1763.1 277.7h17M1771.6 269.2v17M1764 277.3h17M1772.5 268.8v17M1764.9 277.7h17M1773.4 269.2v17M1765.8 282.6h17M1774.3 274.1v17M1766.7 283.1h17M1775.2 274.6v17M1767.6 285.3h17M1776.1 276.8v17M1768.5 287.5h17M1777 279v17M1769.4 290h17M1777.9 281.5v17M1770.3 290.6h17M1778.8 282.1v17M1771.2 292.1h17M1779.7 283.6v17M1772.1 292.6h17M1780.6 284.1v17M1773 294.1h17M1781.5 285.6v17M1773.9 296.4h17M1782.4 287.9v17M1774.8 298.2h17M1783.3 289.7v17M1775.7 303.1h17M1784.2 294.6v17M1776.6 303.4h17M1785.1 294.9v17M1777.5 303.1h17M1786 294.6v17M1778.4 306h17M1786.9 297.5v17M1779.3 308.2h17M1787.8 299.7v17M1780.2 311.7h17M1788.7 303.2v17M1781.1 311.8h17M1789.6 303.3v17M1782 314.2h17M1790.5 305.7v17M1782.9 314.9h17M1791.4 306.4v17M1783.1 317h17M1791.6 308.5v17M1783.2 308.9h17M1791.7 300.4v17M1785.1 300.8h17M1793.6 292.3v17M1785 292.7h17M1793.5 284.2v17M1786 284.6h17M1794.5 276.1v17M1786.1 276.5h17M1794.6 268v17M1785.7 268.4h17M1794.2 259.9v17M1786.5 260.3h17M1795 251.8v17M1787.1 252.2h17M1795.6 243.7v17M1788.6 244.1h17M1797.1 235.6v17M1788.2 236h17M1796.7 227.5v17M1788.5 237.9h17M1797 229.4v17M1789.4 240.3h17M1797.9 231.8v17M1790.3 243.1h17M1798.8 234.6v17M1791.2 245.6h17M1799.7 237.1v17M1792.1 249.4h17M1800.6 240.9v17M1792.5 249.4h17M1801 240.9v17M1793.4 248.3h17M1801.9 239.8v17M1794.3 251.3h17M1802.8 242.8v17M1795.2 249.6h17M1803.7 241.1v17M1796.1 251.5h17M1804.6 243v17M1797 250.5h17M1805.5 242v17M1797.9 249.8h17M1806.4 241.3v17M1798.8 249.1h17M1807.3 240.6v17M1799.7 250.1h17M1808.2 241.6v17M1800.6 248.2h17M1809.1 239.7v17M1801.5 248.6h17M1810 240.1v17M1802.4 248.4h17M1810.9 239.9v17M1803.3 250.3h17M1811.8 241.8v17M1803.5 250.8h17M1812 242.3v17M1804.4 248.6h17M1812.9 240.1v17M1805.3 249.6h17M1813.8 241.1v17M1806.2 252.1h17M1814.7 243.6v17M1807.1 254.7h17M1815.6 246.2v17M1808 254.9h17M1816.5 246.4v17M1808.9 257.4h17M1817.4 248.9v17M1809.8 259.5h17M1818.3 251v17M1810.7 259.5h17M1819.2 251v17M1811.6 260.8h17M1820.1 252.3v17M1812.5 259.9h17M1821 251.4v17M1813.4 262.9h17M1821.9 254.4v17M1814.3 264.3h17M1822.8 255.8v17M1815.2 263.8h17M1823.7 255.3v17M1816.1 264.4h17M1824.6 255.9v17M1817 268.2h17M1825.5 259.7v17M1817.9 270.7h17M1826.4 262.2v17M1818.8 270.6h17M1827.3 262.1v17M1819.7 270h17M1828.2 261.5v17M1820.6 273.9h17M1829.1 265.4v17M1821.5 273h17M1830 264.5v17M1822.4 274.3h17M1830.9 265.8v17M1823.3 277.4h17M1831.8 268.9v17M1824.2 278.6h17M1832.7 270.1v17M1825.1 280.4h17M1833.6 271.9v17M1826 281.4h17M1834.5 272.9v17M1826.9 279.1h17M1835.4 270.6v17M1827.8 281.3h17M1836.3 272.8v17M1828.7 283.9h17M1837.2 275.4v17M1829.6 283.7h17M1838.1 275.2v17M1830.5 287.5h17M1839 279v17M1831.4 288.2h17M1839.9 279.7v17M1832.3 289.5h17M1840.8 281v17M1833.2 291.5h17M1841.7 283v17M1834.1 291.8h17M1842.6 283.3v17M1835 294.1h17M1843.5 285.6v17M1835.9 293.3h17M1844.4 284.8v17M1836.8 293.2h17M1845.3 284.7v17M1837.7 296h17M1846.2 287.5v17M1838.6 299h17M1847.1 290.5v17M1839.5 298.9h17M1848 290.4v17M1840.4 298.9h17M1848.9 290.4v17M1841.3 299.3h17M1849.8 290.8v17M1842.2 300.6h17M1850.7 292.1v17M1843.1 301.8h17M1851.6 293.3v17M1844 305.4h17M1852.5 296.9v17M1844.9 305.1h17M1853.4 296.6v17M1845.8 306.8h17M1854.3 298.3v17M1727.9 262h17M1736.4 253.5v17M1727 270.7h17M1735.5 262.2v17M1726.2 279.4h17M1734.7 270.9v17M1726.3 288.5h17M1734.8 280v17M1726.9 296.1h17M1735.4 287.6v17M1725.3 305.9h17M1733.8 297.4v17M1728 317.8h17M1736.5 309.3v17M1726 326.2h17M1734.5 317.7v17M1726.5 337.1h17M1735 328.6v17M1727.3 346.9h17M1735.8 338.4v17M1725.8 357.6h17M1734.3 349.1v17M1727.4 367.1h17M1735.9 358.6v17M1732.6 258h17M1741.1 249.5v17M1732 269h17M1740.5 260.5v17M1731.1 276.1h17M1739.6 267.6v17M1730.7 286.7h17M1739.2 278.2v17M1731.8 294h17M1740.3 285.5v17M1733 304.8h17M1741.5 296.3v17M1731.3 315.5h17M1739.8 307v17M1732 322.6h17M1740.5 314.1v17M1731.6 334.1h17M1740.1 325.6v17M1730.3 343.9h17M1738.8 335.4v17M1737.8 262h17M1746.3 253.5v17M1737 273h17M1745.5 264.5v17M1737.8 284.2h17M1746.3 275.7v17M1736.6 293.9h17M1745.1 285.4v17M1736.4 304.4h17M1744.9 295.9v17M1738.7 313.5h17M1747.2 305v17M1738.8 324.9h17M1747.3 316.4v17M1738.7 332.8h17M1747.2 324.3v17M1736.5 342.2h17M1745 333.7v17M1738.9 353.7h17M1747.4 345.2v17M1743.1 275h17M1751.6 266.5v17M1744.8 283.1h17M1753.3 274.6v17M1744.8 293.7h17M1753.3 285.2v17M1745 304.3h17M1753.5 295.8v17M1744.5 315h17M1753 306.5v17M1743.3 326.6h17M1751.8 318.1v17M1743.2 338.2h17M1751.7 329.7v17M1749.6 262h17M1758.1 253.5v17M1748 272.2h17M1756.5 263.7v17M1748.8 280.9h17M1757.3 272.4v17M1748.9 288h17M1757.4 279.5v17M1748.3 296.2h17M1756.8 287.7v17M1750.6 304.5h17M1759.1 296v17M1750.1 312.6h17M1758.6 304.1v17M1748 324.6h17M1756.5 316.1v17M1754.4 262h17M1762.9 253.5v17M1754.9 269.9h17M1763.4 261.4v17M1756.6 281.5h17M1765.1 273v17M1756.4 289h17M1764.9 280.5v17M1755.1 296.4h17M1763.6 287.9v17M1756.6 308.4h17M1765.1 299.9v17M1755.7 315.9h17M1764.2 307.4v17M1778 290h17M1786.5 281.5v17M1777.7 301.3h17M1786.2 292.8v17M1778.7 313h17M1787.2 304.5v17M1776.2 320.8h17M1784.7 312.3v17M1777.5 328.8h17M1786 320.3v17M1778.6 339.2h17M1787.1 330.7v17M1778 349.9h17M1786.5 341.4v17M1778 359.9h17M1786.5 351.4v17M1784 300h17M1792.5 291.5v17M1784.6 311.2h17M1793.1 302.7v17M1784 321.8h17M1792.5 313.3v17M1783 329.1h17M1791.5 320.6v17M1782.9 338.4h17M1791.4 329.9v17M1783.1 346.4h17M1791.6 337.9v17M1782.8 357.6h17M1791.3 349.1v17M1796 270h17M1804.5 261.5v17M1798.2 279.1h17M1806.7 270.6v17M1796 289.9h17M1804.5 281.4v17M1796.2 297.5h17M1804.7 289v17M1796.3 307.3h17M1804.8 298.8v17M1796.8 316.3h17M1805.3 307.8v17M1797.1 323.8h17M1805.6 315.3v17M1797.7 333h17M1806.2 324.5v17M1796.2 341.7h17M1804.7 333.2v17M1798.1 350.3h17M1806.6 341.8v17M1797.6 357.3h17M1806.1 348.8v17M1798.6 364.4h17M1807.1 355.9v17M1803.6 285h17M1812.1 276.5v17M1803.6 292.5h17M1812.1 284v17M1804.7 303.4h17M1813.2 294.9v17M1804.7 314.4h17M1813.2 305.9v17M1804.4 321.4h17M1812.9 312.9v17M1804.6 328.7h17M1813.1 320.2v17M1804.2 340.6h17M1812.7 332.1v17M1804.2 350.7h17M1812.7 342.2v17M1804.6 358.1h17M1813.1 349.6v17M1841.1 259.5h17M1849.6 251v17M1841.3 269.7h17M1849.8 261.2v17M1841.5 279.1h17M1850 270.6v17M1842 289.5h17M1850.5 281v17M1841.2 300.1h17M1849.7 291.6v17M1840.9 308.8h17M1849.4 300.3v17M1848.8 257.8h17M1857.3 249.3v17M1848.7 266.3h17M1857.2 257.8v17M1848.6 275.4h17M1857.1 266.9v17M1848.6 285.8h17M1857.1 277.3v17M1847.6 294.5h17M1856.1 286v17M1849 304h17M1857.5 295.5v17M1848 313.6h17M1856.5 305.1v17M1854.8 257.2h17M1863.3 248.7v17M1855.3 268h17M1863.8 259.5v17M1855.1 277.6h17M1863.6 269.1v17M1856 286.8h17M1864.5 278.3v17M1855 297.3h17M1863.5 288.8v17M1856.1 307.6h17M1864.6 299.1v17M1856.2 317.1h17M1864.7 308.6v17M1862.1 259.2h17M1870.6 250.7v17M1862.1 268.3h17M1870.6 259.8v17M1863 277.2h17M1871.5 268.7v17M1863 287.4h17M1871.5 278.9v17M1862.1 297.5h17M1870.6 289v17M1862.1 306.3h17M1870.6 297.8v17M1861.7 316.7h17M1870.2 308.2v17M1868 258.4h17M1876.5 249.9v17M1867.8 268.3h17M1876.3 259.8v17M1868.9 277.2h17M1877.4 268.7v17M1868.1 287.6h17M1876.6 279.1v17M1868.4 296.7h17M1876.9 288.2v17M1868.8 307.6h17M1877.3 299.1v17M1868.5 317.2h17M1877 308.7v17M1874.3 261h17M1882.8 252.5v17M1875.7 271.2h17M1884.2 262.7v17M1874.5 280.9h17M1883 272.4v17M1874.6 290.1h17M1883.1 281.6v17M1875.5 300.7h17M1884 292.2v17M1874.8 310h17M1883.3 301.5v17M1881.6 264.3h17M1890.1 255.8v17M1880.5 275.2h17M1889 266.7v17M1881.8 286h17M1890.3 277.5v17M1880.6 296.5h17M1889.1 288v17M1882 307.2h17M1890.5 298.7v17M1888.1 260.3h17M1896.6 251.8v17M1887.2 270.3h17M1895.7 261.8v17M1886.7 279h17M1895.2 270.5v17M1887.1 289.3h17M1895.6 280.8v17M1887.2 298.1h17M1895.7 289.6v17M1888 307.8h17M1896.5 299.3v17M1886.9 317.5h17M1895.4 309v17M1894.8 259.4h17M1903.3 250.9v17M1894 268.9h17M1902.5 260.4v17M1894.5 277.6h17M1903 269.1v17M1894.9 287.6h17M1903.4 279.1v17M1894 296.1h17M1902.5 287.6v17M1894 305.7h17M1902.5 297.2v17M1894.7 314.3h17M1903.2 305.8v17M1894.4 322.9h17M1902.9 314.4v17M1899.7 259h17M1908.2 250.5v17M1899.8 268.8h17M1908.3 260.3v17M1900.3 278.8h17M1908.8 270.3v17M1899.6 289h17M1908.1 280.5v17M1900.5 299.1h17M1909 290.6v17M1901 307.7h17M1909.5 299.2v17M1900.7 318.3h17M1909.2 309.8v17M1900.2 328.8h17M1908.7 320.3v17M1906.4 257.2h17M1914.9 248.7v17M1905.8 265.9h17M1914.3 257.4v17M1905 276.8h17M1913.5 268.3v17M1906.2 286.7h17M1914.7 278.2v17M1905.1 295.9h17M1913.6 287.4v17M1906.1 306.2h17M1914.6 297.7v17M1905.9 317h17M1914.4 308.5v17M1906.1 325.7h17M1914.6 317.2v17M1912.8 258.2h17M1921.3 249.7v17M1911.4 268.1h17M1919.9 259.6v17M1912.1 277.9h17M1920.6 269.4v17M1911.5 288.3h17M1920 279.8v17M1911.3 298.1h17M1919.8 289.6v17M1911.3 309.1h17M1919.8 300.6v17M1917.3 259.3h17M1925.8 250.8v17M1917.1 268.4h17M1925.6 259.9v17M1917.5 277.7h17M1926 269.2v17M1917 288.6h17M1925.5 280.1v17M1916.7 297.5h17M1925.2 289v17M1917.9 308.3h17M1926.4 299.8v17M1917.5 282.6h17M1926 274.1v17M1917.5 295.4h17M1926 286.9v17M1917.5 287.6h17M1926 279.1v17M1919.1 299h17M1927.6 290.5v17M1919.1 269.7h17M1927.6 261.2v17M1919.1 308.3h17M1927.6 299.8v17M1920.7 291.8h17M1929.2 283.3v17M1920.7 292.8h17M1929.2 284.3v17M1920.7 291.4h17M1929.2 282.9v17M1922.3 284.2h17M1930.8 275.7v17M1922.3 261.4h17M1930.8 252.9v17M1922.3 269.4h17M1930.8 260.9v17M1923.9 286.8h17M1932.4 278.3v17M1923.9 265.9h17M1932.4 257.4v17M1923.9 292.7h17M1932.4 284.2v17M1925.5 272.2h17M1934 263.7v17M1925.5 297.7h17M1934 289.2v17M1925.5 283.3h17M1934 274.8v17M1927.1 296.7h17M1935.6 288.2v17M1927.1 276.6h17M1935.6 268.1v17M1927.1 269.6h17M1935.6 261.1v17M1928.7 297.4h17M1937.2 288.9v17M1928.7 305.4h17M1937.2 296.9v17M1928.7 274.7h17M1937.2 266.2v17M1930.3 266h17M1938.8 257.5v17M1930.3 307.7h17M1938.8 299.2v17M1930.3 301.9h17M1938.8 293.4v17M1931.9 302.5h17M1940.4 294v17M1931.9 303.7h17M1940.4 295.2v17M1931.9 284.7h17M1940.4 276.2v17M1933.5 311.9h17M1942 303.4v17M1933.5 304.5h17M1942 296v17M1933.5 301.8h17M1942 293.3v17M1935.1 311.3h17M1943.6 302.8v17M1935.1 309.5h17M1943.6 301v17M1935.1 291.6h17M1943.6 283.1v17M1936.7 264.2h17M1945.2 255.7v17M1936.7 292.4h17M1945.2 283.9v17M1936.7 287.4h17M1945.2 278.9v17M1938.3 261.4h17M1946.8 252.9v17M1938.3 277.2h17M1946.8 268.7v17M1938.3 304.1h17M1946.8 295.6v17M1939.9 293.2h17M1948.4 284.7v17M1939.9 309.5h17M1948.4 301v17M1939.9 300.2h17M1948.4 291.7v17M1941.5 269h17M1950 260.5v17M1941.5 297.5h17M1950 289v17M1941.5 261.5h17M1950 253v17M1943.1 305.5h17M1951.6 297v17M1943.1 274.2h17M1951.6 265.7v17M1943.1 311h17M1951.6 302.5v17M1944.7 260.1h17M1953.2 251.6v17M1944.7 298.1h17M1953.2 289.6v17M1944.7 263.1h17M1953.2 254.6v17M1946.3 304.3h17M1954.8 295.8v17M1946.3 301.8h17M1954.8 293.3v17M1946.3 285h17M1954.8 276.5v17M1947.9 287.3h17M1956.4 278.8v17M1947.9 268.2h17M1956.4 259.7v17M1947.9 276.3h17M1956.4 267.8v17M1949.5 263.6h17M1958 255.1v17M1949.5 277.3h17M1958 268.8v17M1949.5 263h17M1958 254.5v17M1951.1 290.2h17M1959.6 281.7v17M1951.1 282.3h17M1959.6 273.8v17M1951.1 274.5h17M1959.6 266v17M1952.7 273.4h17M1961.2 264.9v17M1952.7 307.6h17M1961.2 299.1v17M1952.7 307.4h17M1961.2 298.9v17M1954.3 308.9h17M1962.8 300.4v17M1954.3 274.9h17M1962.8 266.4v17M1954.3 259.4h17M1962.8 250.9v17M1955.9 266.2h17M1964.4 257.7v17M1955.9 302.4h17M1964.4 293.9v17M1955.9 276h17M1964.4 267.5v17M1957.5 267.8h17M1966 259.3v17M1957.5 307.4h17M1966 298.9v17M1957.5 271.5h17M1966 263v17M1959.1 289.3h17M1967.6 280.8v17M1959.1 282.5h17M1967.6 274v17M1959.1 269.8h17M1967.6 261.3v17M1960.7 282.4h17M1969.2 273.9v17M1960.7 300.5h17M1969.2 292v17M1960.7 289.8h17M1969.2 281.3v17M1962.3 304h17M1970.8 295.5v17M1962.3 269.7h17M1970.8 261.2v17M1962.3 273.5h17M1970.8 265v17M1963.9 288.3h17M1972.4 279.8v17M1963.9 296.3h17M1972.4 287.8v17M1963.9 287.5h17M1972.4 279v17M1965.5 284.5h17M1974 276v17M1965.5 303.4h17M1974 294.9v17M1965.5 304.8h17M1974 296.3v17M1967.1 298h17M1975.6 289.5v17M1967.1 280.4h17M1975.6 271.9v17M1967.1 301.2h17M1975.6 292.7v17M1968.7 296h17M1977.2 287.5v17M1968.7 300.6h17M1977.2 292.1v17M1968.7 300.6h17M1977.2 292.1v17M1970.3 293.7h17M1978.8 285.2v17M1970.3 287h17M1978.8 278.5v17M1970.3 304.1h17M1978.8 295.6v17M1971.9 307.3h17M1980.4 298.8v17M1971.9 308.4h17M1980.4 299.9v17M1971.9 282.8h17M1980.4 274.3v17M1973.5 277.8h17M1982 269.3v17M1973.5 277.1h17M1982 268.6v17M1973.5 297.2h17M1982 288.7v17M1975.1 308.9h17M1983.6 300.4v17M1975.1 277.7h17M1983.6 269.2v17M1975.1 286.7h17M1983.6 278.2v17M1976.7 290.1h17M1985.2 281.6v17M1976.7 284.3h17M1985.2 275.8v17M1976.7 290.2h17M1985.2 281.7v17M1978.3 281h17M1986.8 272.5v17M1978.3 290.8h17M1986.8 282.3v17M1978.3 308.7h17M1986.8 300.2v17M1979.9 297.9h17M1988.4 289.4v17M1979.9 307.2h17M1988.4 298.7v17M1979.9 282h17M1988.4 273.5v17M1981.5 267.8h17M1990 259.3v17M1981.5 270.3h17M1990 261.8v17M1981.5 271.7h17M1990 263.2v17M1983.1 296.3h17M1991.6 287.8v17M1983.1 269.8h17M1991.6 261.3v17M1983.1 286.2h17M1991.6 277.7v17M1984.7 303.1h17M1993.2 294.6v17M1984.7 278.2h17M1993.2 269.7v17M1984.7 269.2h17M1993.2 260.7v17M1986.3 300.5h17M1994.8 292v17M1986.3 304.9h17M1994.8 296.4v17M1986.3 260.8h17M1994.8 252.3v17M1987.9 296.7h17M1996.4 288.2v17M1987.9 304h17M1996.4 295.5v17M1987.9 271.6h17M1996.4 263.1v17M1989.5 274.3h17M1998 265.8v17M1989.5 266.5h17M1998 258v17M1989.5 267.7h17M1998 259.2v17M1991.1 293h17M1999.6 284.5v17M1991.1 277.9h17M1999.6 269.4v17M1991.1 271.8h17M1999.6 263.3v17M1992.7 274.3h17M2001.2 265.8v17M1992.7 299.3h17M2001.2 290.8v17M1992.7 303.4h17M2001.2 294.9v17M1994.3 272.2h17M2002.8 263.7v17M1994.3 269.8h17M2002.8 261.3v17M1994.3 269.9h17M2002.8 261.4v17M1995.9 293.7h17M2004.4 285.2v17M1995.9 299.5h17M2004.4 291v17M1995.9 266.4h17M2004.4 257.9v17M1997.5 262.3h17M2006 253.8v17M1997.5 272.9h17M2006 264.4v17M1997.5 295.9h17M2006 287.4v17M1999.1 296.7h17M2007.6 288.2v17M1999.1 301.5h17M2007.6 293v17M1999.1 277h17M2007.6 268.5v17M2000.7 259.5h17M2009.2 251v17M2000.7 259.6h17M2009.2 251.1v17M2000.7 294.9h17M2009.2 286.4v17M2002.3 274.9h17M2010.8 266.4v17M2002.3 265.4h17M2010.8 256.9v17M2002.3 270.6h17M2010.8 262.1v17M2003.9 262.2h17M2012.4 253.7v17M2003.9 300.1h17M2012.4 291.6v17M2003.9 277.5h17M2012.4 269v17M2005.5 281h17M2014 272.5v17M2005.5 266.8h17M2014 258.3v17M2005.5 281.8h17M2014 273.3v17M2007.1 268.5h17M2015.6 260v17M2007.1 301.2h17M2015.6 292.7v17M2007.1 297.7h17M2015.6 289.2v17M2008.7 290.5h17M2017.2 282v17M2008.7 282.9h17M2017.2 274.4v17M2008.7 291h17M2017.2 282.5v17M2010.3 258.6h17M2018.8 250.1v17M2010.3 272.4h17M2018.8 263.9v17M2010.3 298.3h17M2018.8 289.8v17M2011.9 293.7h17M2020.4 285.2v17M2011.9 269.4h17M2020.4 260.9v17M2011.9 272.9h17M2020.4 264.4v17M2013.5 259.5h17M2022 251v17M2013.5 252.3h17M2022 243.8v17M2013.5 301.8h17M2022 293.3v17M2015.1 261h17M2023.6 252.5v17M2015.1 293.9h17M2023.6 285.4v17M2015.1 260.7h17M2023.6 252.2v17M2016.7 275h17M2025.2 266.5v17M2016.7 279.9h17M2025.2 271.4v17M2016.7 260.3h17M2025.2 251.8v17M2018.3 265.4h17M2026.8 256.9v17M2018.3 257.2h17M2026.8 248.7v17M2018.3 249.4h17M2026.8 240.9v17M2019.9 270.7h17M2028.4 262.2v17M2019.9 299.6h17M2028.4 291.1v17M2019.9 261.6h17M2028.4 253.1v17M2021.5 275.1h17M2030 266.6v17M2021.5 272.5h17M2030 264v17M2021.5 280.4h17M2030 271.9v17M2023.1 260.6h17M2031.6 252.1v17M2023.1 249.2h17M2031.6 240.7v17M2023.1 268.5h17M2031.6 260v17M2024.7 314.9h17M2033.2 306.4v17M2024.7 286.4h17M2033.2 277.9v17M2024.7 277.3h17M2033.2 268.8v17M2026.3 265.9h17M2034.8 257.4v17M2026.3 297.6h17M2034.8 289.1v17M2026.3 255h17M2034.8 246.5v17M2027.9 290.4h17M2036.4 281.9v17M2027.9 281.5h17M2036.4 273v17M2027.9 248.2h17M2036.4 239.7v17M2029.5 280.7h17M2038 272.2v17M2029.5 268.1h17M2038 259.6v17M2029.5 242.6h17M2038 234.1v17M2031.1 275.7h17M2039.6 267.2v17M2031.1 256.6h17M2039.6 248.1v17M2031.1 249.1h17M2039.6 240.6v17M2032.7 293.8h17M2041.2 285.3v17M2032.7 283.6h17M2041.2 275.1v17M2032.7 271.3h17M2041.2 262.8v17M2034.3 294.9h17M2042.8 286.4v17M2034.3 307.6h17M2042.8 299.1v17M2034.3 269.9h17M2042.8 261.4v17" stroke="#0000ff" stroke-width="4.5" fill="none"/>
<line x1="1329.5" y1="283.4" x2="1371" y2="283.4" stroke="#ff00ff" stroke-width="2.1"/>
<line x1="1396.2" y1="283.4" x2="1437.7" y2="283.4" stroke="#ff00ff" stroke-width="2.1"/>
<line x1="1462.9" y1="283.4" x2="1504.4" y2="283.4" stroke="#ff00ff" stroke-width="2.1"/>
<line x1="1529.6" y1="283.4" x2="1571.1" y2="283.4" stroke="#ff00ff" stroke-width="2.1"/>
<line x1="1596.3" y1="283.4" x2="1637.8" y2="283.4" stroke="#ff00ff" stroke-width="2.1"/>
<line x1="1663" y1="283.4" x2="1704.5" y2="283.4" stroke="#ff00ff" stroke-width="2.1"/>
<line x1="1729.6" y1="283.4" x2="1771.1" y2="283.4" stroke="#ff00ff" stroke-width="2.1"/>
<line x1="1796.3" y1="283.4" x2="1837.8" y2="283.4" stroke="#ff00ff" stroke-width="2.1"/>
<line x1="1863" y1="283.4" x2="1904.5" y2="283.4" stroke="#ff00ff" stroke-width="2.1"/>
<line x1="1929.7" y1="283.4" x2="1971.2" y2="283.4" stroke="#ff00ff" stroke-width="2.1"/>
<line x1="1996.4" y1="283.4" x2="2037.9" y2="283.4" stroke="#ff00ff" stroke-width="2.1"/>
<rect x="1474.5" y="312.2" width="596" height="120.9" fill="none" stroke="#262626" stroke-width="2.1"/>
<path d="M1545.5 345.7h17M1554 337.2v17" stroke="#0000ff" stroke-width="4" fill="none"/>
<line x1="1491.8" y1="399.2" x2="1532.9" y2="399.2" stroke="#ff00ff" stroke-width="2.1"/>
<line x1="1558.4" y1="399.2" x2="1599.8" y2="399.2" stroke="#ff00ff" stroke-width="2.1"/>
<text x="1628.2" y="357.4" font-size="39.7" fill="#000" stroke="#000" stroke-width="0.45" textLength="182.6" lengthAdjust="spacingAndGlyphs">Heading (</text>
<text x="1844.1" y="357.4" font-size="39.7" fill="#000" stroke="#000" stroke-width="0.45" textLength="47" lengthAdjust="spacingAndGlyphs">M)</text>
<text x="1628.2" y="412.5" font-size="39.7" fill="#000" stroke="#000" stroke-width="0.45" textLength="338.7" lengthAdjust="spacingAndGlyphs">Desired Heading (</text>
<text x="2002.2" y="412.5" font-size="39.7" fill="#000" stroke="#000" stroke-width="0.45" textLength="47" lengthAdjust="spacingAndGlyphs">M)</text>
<circle cx="1820.9" cy="337.2" r="4.6" fill="none" stroke="#000" stroke-width="2.6"/>
<circle cx="1980" cy="392.8" r="4.6" fill="none" stroke="#000" stroke-width="2.6"/>
<line x1="564.1" y1="654.5" x2="564.1" y2="1000.5" stroke="#262626" stroke-width="2.1" stroke-opacity="0.15"/>
<line x1="823.8" y1="654.5" x2="823.8" y2="1000.5" stroke="#262626" stroke-width="2.1" stroke-opacity="0.15"/>
<line x1="1083.4" y1="654.5" x2="1083.4" y2="1000.5" stroke="#262626" stroke-width="2.1" stroke-opacity="0.15"/>
<line x1="304.5" y1="654.5" x2="1083.4" y2="654.5" stroke="#000000" stroke-width="2.1" stroke-opacity="0.15"/>
<line x1="304.5" y1="681.1" x2="1083.4" y2="681.1" stroke="#000000" stroke-width="2.1" stroke-opacity="0.15"/>
<line x1="304.5" y1="707.7" x2="1083.4" y2="707.7" stroke="#000000" stroke-width="2.1" stroke-opacity="0.15"/>
<line x1="304.5" y1="734.3" x2="1083.4" y2="734.3" stroke="#000000" stroke-width="2.1" stroke-opacity="0.15"/>
<line x1="304.5" y1="761" x2="1083.4" y2="761" stroke="#000000" stroke-width="2.1" stroke-opacity="0.15"/>
<line x1="304.5" y1="787.6" x2="1083.4" y2="787.6" stroke="#000000" stroke-width="2.1" stroke-opacity="0.15"/>
<line x1="304.5" y1="814.2" x2="1083.4" y2="814.2" stroke="#000000" stroke-width="2.1" stroke-opacity="0.15"/>
<line x1="304.5" y1="840.8" x2="1083.4" y2="840.8" stroke="#000000" stroke-width="2.1" stroke-opacity="0.15"/>
<line x1="304.5" y1="867.4" x2="1083.4" y2="867.4" stroke="#000000" stroke-width="2.1" stroke-opacity="0.15"/>
<line x1="304.5" y1="894" x2="1083.4" y2="894" stroke="#000000" stroke-width="2.1" stroke-opacity="0.15"/>
<line x1="304.5" y1="920.7" x2="1083.4" y2="920.7" stroke="#000000" stroke-width="2.1" stroke-opacity="0.15"/>
<line x1="304.5" y1="947.3" x2="1083.4" y2="947.3" stroke="#000000" stroke-width="2.1" stroke-opacity="0.15"/>
<line x1="304.5" y1="973.9" x2="1083.4" y2="973.9" stroke="#000000" stroke-width="2.1" stroke-opacity="0.15"/>
<line x1="304.5" y1="1000.5" x2="1083.4" y2="1000.5" stroke="#000000" stroke-width="2.1" stroke-opacity="0.15"/>
<line x1="303.5" y1="1000.5" x2="1084.4" y2="1000.5" stroke="#262626" stroke-width="2.1"/>
<line x1="304.5" y1="1000.5" x2="304.5" y2="992.7" stroke="#262626" stroke-width="2.1"/>
<text x="289.9" y="1058" font-size="44.2" fill="#262626" stroke="#262626" stroke-width="0.45" textLength="26.5" lengthAdjust="spacingAndGlyphs">0</text>
<line x1="564.1" y1="1000.5" x2="564.1" y2="992.7" stroke="#262626" stroke-width="2.1"/>
<text x="523.1" y="1058" font-size="44.2" fill="#262626" stroke="#262626" stroke-width="0.45" textLength="79.5" lengthAdjust="spacingAndGlyphs">100</text>
<line x1="823.8" y1="1000.5" x2="823.8" y2="992.7" stroke="#262626" stroke-width="2.1"/>
<text x="782.7" y="1058" font-size="44.2" fill="#262626" stroke="#262626" stroke-width="0.45" textLength="79.5" lengthAdjust="spacingAndGlyphs">200</text>
<line x1="1083.4" y1="1000.5" x2="1083.4" y2="992.7" stroke="#262626" stroke-width="2.1"/>
<text x="1042.3" y="1058" font-size="44.2" fill="#262626" stroke="#262626" stroke-width="0.45" textLength="79.5" lengthAdjust="spacingAndGlyphs">300</text>
<text x="532.5" y="1116.5" font-size="44.2" fill="#262626" stroke="#262626" stroke-width="0.45" textLength="317.7" lengthAdjust="spacingAndGlyphs">Time (minutes)</text>
<line x1="304.5" y1="653.5" x2="304.5" y2="1001.5" stroke="#000" stroke-width="2.1"/>
<line x1="304.5" y1="654.5" x2="312.3" y2="654.5" stroke="#000" stroke-width="2.1"/>
<text x="232" y="669" font-size="44.2" fill="#000" stroke="#000" stroke-width="0.45" textLength="53" lengthAdjust="spacingAndGlyphs">40</text>
<line x1="304.5" y1="681.1" x2="312.3" y2="681.1" stroke="#000" stroke-width="2.1"/>
<text x="232" y="695.6" font-size="44.2" fill="#000" stroke="#000" stroke-width="0.45" textLength="53" lengthAdjust="spacingAndGlyphs">30</text>
<line x1="304.5" y1="707.7" x2="312.3" y2="707.7" stroke="#000" stroke-width="2.1"/>
<text x="232" y="722.2" font-size="44.2" fill="#000" stroke="#000" stroke-width="0.45" textLength="53" lengthAdjust="spacingAndGlyphs">20</text>
<line x1="304.5" y1="734.3" x2="312.3" y2="734.3" stroke="#000" stroke-width="2.1"/>
<text x="232" y="748.8" font-size="44.2" fill="#000" stroke="#000" stroke-width="0.45" textLength="53" lengthAdjust="spacingAndGlyphs">10</text>
<line x1="304.5" y1="761" x2="312.3" y2="761" stroke="#000" stroke-width="2.1"/>
<text x="258.5" y="775.5" font-size="44.2" fill="#000" stroke="#000" stroke-width="0.45" textLength="26.5" lengthAdjust="spacingAndGlyphs">0</text>
<line x1="304.5" y1="787.6" x2="312.3" y2="787.6" stroke="#000" stroke-width="2.1"/>
<text x="216.9" y="802.1" font-size="44.2" fill="#000" stroke="#000" stroke-width="0.45" textLength="68.1" lengthAdjust="spacingAndGlyphs">-10</text>
<line x1="304.5" y1="814.2" x2="312.3" y2="814.2" stroke="#000" stroke-width="2.1"/>
<text x="216.9" y="828.7" font-size="44.2" fill="#000" stroke="#000" stroke-width="0.45" textLength="68.1" lengthAdjust="spacingAndGlyphs">-20</text>
<line x1="304.5" y1="840.8" x2="312.3" y2="840.8" stroke="#000" stroke-width="2.1"/>
<text x="216.9" y="855.3" font-size="44.2" fill="#000" stroke="#000" stroke-width="0.45" textLength="68.1" lengthAdjust="spacingAndGlyphs">-30</text>
<line x1="304.5" y1="867.4" x2="312.3" y2="867.4" stroke="#000" stroke-width="2.1"/>
<text x="216.9" y="881.9" font-size="44.2" fill="#000" stroke="#000" stroke-width="0.45" textLength="68.1" lengthAdjust="spacingAndGlyphs">-40</text>
<line x1="304.5" y1="894" x2="312.3" y2="894" stroke="#000" stroke-width="2.1"/>
<text x="216.9" y="908.5" font-size="44.2" fill="#000" stroke="#000" stroke-width="0.45" textLength="68.1" lengthAdjust="spacingAndGlyphs">-50</text>
<line x1="304.5" y1="920.7" x2="312.3" y2="920.7" stroke="#000" stroke-width="2.1"/>
<text x="216.9" y="935.2" font-size="44.2" fill="#000" stroke="#000" stroke-width="0.45" textLength="68.1" lengthAdjust="spacingAndGlyphs">-60</text>
<line x1="304.5" y1="947.3" x2="312.3" y2="947.3" stroke="#000" stroke-width="2.1"/>
<text x="216.9" y="961.8" font-size="44.2" fill="#000" stroke="#000" stroke-width="0.45" textLength="68.1" lengthAdjust="spacingAndGlyphs">-70</text>
<line x1="304.5" y1="973.9" x2="312.3" y2="973.9" stroke="#000" stroke-width="2.1"/>
<text x="216.9" y="988.4" font-size="44.2" fill="#000" stroke="#000" stroke-width="0.45" textLength="68.1" lengthAdjust="spacingAndGlyphs">-80</text>
<line x1="304.5" y1="1000.5" x2="312.3" y2="1000.5" stroke="#000" stroke-width="2.1"/>
<text x="216.9" y="1015" font-size="44.2" fill="#000" stroke="#000" stroke-width="0.45" textLength="68.1" lengthAdjust="spacingAndGlyphs">-90</text>
<text transform="translate(191.8 827.5) rotate(-90)" x="-51.2" y="0" font-size="44.2" fill="#000" stroke="#000" stroke-width="0.45" textLength="102.4" lengthAdjust="spacingAndGlyphs">Pitch</text>
<polyline points="308.6,951.4 308.6,949.9 308.6,948.5 308.6,947.4 308.6,945.6 308.6,944.2 308.6,942.2 308.6,940.7 308.6,939.5 308.6,937.9 308.6,936.4 308.6,935.5 308.6,933.8 308.6,932.1 308.6,930.4 308.6,929 308.6,927.3 308.6,925.9 308.6,924.6 308.6,923.2 308.6,921.9 308.6,920.4 308.6,918.7 308.6,917.4 308.6,916.2 308.6,914.3" fill="none" stroke="#ff00ff" stroke-width="2.4" stroke-linejoin="round"/>
<polyline points="308.6,889.7 308.6,888.8 308.6,887.1 308.6,885.4 308.6,883.7 308.6,882.2 308.6,880.5 308.6,879.8 308.6,877.2 308.6,875.6 308.6,873.9 308.6,872.6 308.6,871.2 308.6,869.9 308.6,868.5 308.6,866.5 308.6,865.3 308.6,863.5 308.6,862.5 308.6,860.4 308.6,859.4 308.6,858 308.6,856.6 308.6,855.1 308.6,853.8 308.6,852.4 308.6,850.7 308.6,849.1 308.6,847.4" fill="none" stroke="#ff00ff" stroke-width="2.4" stroke-linejoin="round"/>
<polyline points="308.6,821.2 308.6,820.2 308.6,818.2 308.6,816.7 308.6,814.8 308.6,813.4 308.6,812.4 308.6,810.7 308.6,809.2 308.6,807.5 308.6,806.3 308.6,804.8 308.6,803.4 308.6,802.3 308.6,801.2 308.6,799.7 308.6,797.9 308.6,796.5 308.6,795.1 308.6,793.7 308.6,791.9 308.6,790.7 308.6,789 308.6,787.8 308.6,786.5 308.6,785.1 308.6,783.7" fill="none" stroke="#ff00ff" stroke-width="2.4" stroke-linejoin="round"/>
<polyline points="330.5,782.8 332,782.7 333.6,782.7 335.1,782.3 336.6,782.5 338.2,782.5 339.7,782.8 341.2,782.3 342.8,782.1 344.3,782.1 345.8,781.6 347.4,781.8 348.9,782.4 350.5,782.8 352,783.1 353.5,783.1 355.1,783.5 356.6,783.3 358.1,782.9 359.7,783.1 361.2,783.3 362.7,783.2 364.3,783.2 365.8,783" fill="none" stroke="#ff00ff" stroke-width="2.4" stroke-linejoin="round"/>
<polyline points="390.3,782.4 391.8,782.2 393.4,782.7 394.9,782.7 396.5,782.5 398,782.9 399.6,782.9 401.1,782.8 402.6,782.6 404.2,782.8 405.7,782.7 407.3,782.8 408.8,782.9 410.4,782.9 411.9,783.1 413.4,783 415,783.2 416.5,783.1 418.1,782.8 419.6,782.8 421.1,783 422.7,782.9 424.2,782.7 425.8,782.4 427.3,782.3 428.9,782.2 430.4,781.7" fill="none" stroke="#ff00ff" stroke-width="2.4" stroke-linejoin="round"/>
<polyline points="456,782.7 457.5,782.8 459.1,783.1 460.6,783.1 462.2,782.9 463.7,782.8 465.3,782.7 466.8,782.6 468.4,783.1 469.9,783.1 471.5,782.8 473,782.5 474.6,782.7 476.1,782.8 477.6,783 479.2,783.1 480.7,782.6 482.3,782.8 483.8,782.5 485.4,782.3 486.9,782.1 488.5,782.3 490,782.7 491.6,782.5 493.1,782.7 494.7,782.4 496.2,783.1" fill="none" stroke="#ff00ff" stroke-width="2.4" stroke-linejoin="round"/>
<polyline points="521.8,782.8 523.3,782.4 524.9,782.1 526.4,782 528,781.8 529.5,782.1 531.1,782.6 532.6,782.3 534.2,782.3 535.7,781.9 537.3,781.4 538.8,781.6 540.4,782.1 541.9,781.8 543.4,782.2 545,782 546.5,782.2 548.1,781.8 549.6,781.3 551.2,781.3 552.7,781 554.3,781.4 555.8,781.5 557.4,782.5 558.9,782.3 560.5,782 562,781.9" fill="none" stroke="#ff00ff" stroke-width="2.4" stroke-linejoin="round"/>
<polyline points="588.7,782.4 590.2,782.6 591.8,782.7 593.3,782 594.9,782.4 596.4,782.5 598,782.9 599.5,782.7 601.1,782.7 602.6,782.6 604.2,782.4 605.7,783 607.3,783 608.8,782.9 610.3,782.8 611.9,782.5 613.4,782.6 615,782.4 616.5,782.3 618.1,782.3 619.6,782.3 621.2,782.7 622.7,782.5 624.3,782.1 625.8,782.5 627.4,782.5 628.9,782.3" fill="none" stroke="#ff00ff" stroke-width="2.4" stroke-linejoin="round"/>
<polyline points="654.5,782 657,765 660,744.8" fill="none" stroke="#ff00ff" stroke-width="2.4" stroke-linejoin="round"/>
<polyline points="680,739 681.5,739.2 683,738.3 684.5,738.7 686,739.1 687.5,739.6 689,739.5 690.5,739 692,738.9 693.5,739.3 695,739 696.5,739.4 698,738.7 699.5,738.6 701,738.8 702.5,739 704,739.1 705.5,738.3 707,738.9 708.5,739.2 710,739.4 711.5,738.8 713,739.3 714.5,738.9 716,738.4 717.5,738.5 719,738" fill="none" stroke="#ff00ff" stroke-width="2.4" stroke-linejoin="round"/>
<polyline points="743.6,738.2 745.1,738.5 746.7,738.5 748.2,738.1 749.8,739 751.3,738.7 752.9,738.3 754.4,738.2 755.9,738.2 757.5,738.4 759,738.5 760.6,738.6 762.1,738.4 763.7,738.2 765.2,738.5 766.7,738.5 768.3,738.3 769.8,738.6 771.4,738.6 772.9,738.2 774.4,738.1 776,738.5 777.5,738.7 779.1,738.6 780.6,739.2 782.2,739 783.7,738.8" fill="none" stroke="#ff00ff" stroke-width="2.4" stroke-linejoin="round"/>
<polyline points="809.4,738.6 810.9,738.4 812.4,738.1 813.9,738.4 815.4,738.7 816.9,738.7 818.4,738.6 819.9,737.9 821.4,738.3 822.9,737.3 824.4,737.9 825.9,737.8 827.4,737.6 828.9,737.3 830.4,737.7 831.9,738.6 833.4,739.1 834.9,738.6 836.4,738.7 837.9,738.3 839.4,738.5 840.9,738.2 842.4,738.1 843.9,738.7 845.4,738.3 846.9,738.1 848.4,738.5" fill="none" stroke="#ff00ff" stroke-width="2.4" stroke-linejoin="round"/>
<polyline points="871.4,737.9 872.9,737.2 874.4,737.4 876,737.3 877.5,737.9 879,738.4 880.5,738.4 882.1,739 883.6,739.5 885.1,739.1 886.6,738.6 888.1,738.8 889.7,738.1 891.2,737.7 892.7,738.1 894.2,738.7 895.7,738.5 897.3,738.8 898.8,739 900.3,738.5 901.8,739.5 903.4,738.9 904.9,739 906.4,738.9" fill="none" stroke="#ff00ff" stroke-width="2.4" stroke-linejoin="round"/>
<polyline points="927.6,737.8 929.2,738.5 930.7,738.8 932.3,739.2 933.8,738.8 935.4,738.6 936.9,739.5 938.5,739.7 940,739.6 941.6,739.5 943.1,739.8 944.7,738.7 946.2,739.2 947.8,739.4 949.3,739.4 950.9,739.1 952.4,739.2 954,739.3 955.5,738.6 957.1,738.3 958.6,738.8 960.2,738.6 961.7,738.6 963.3,738.5" fill="none" stroke="#ff00ff" stroke-width="2.4" stroke-linejoin="round"/>
<polyline points="986.7,738.6 988.3,739.1 989.9,739.2 991.4,738.8 993,738.1 994.6,738.7 996.2,738.3 997.7,738.2 999.3,737.9 1000.9,737.9 1002.5,737 1004,736.1 1005.6,736.3 1007.2,736.6 1008.8,736.1 1010.3,736 1011.9,735.7 1013.5,734.9" fill="none" stroke="#ff00ff" stroke-width="2.4" stroke-linejoin="round"/>
<polyline points="304.5,929.9 305.6,981 306.5,955 307.5,975 308.9,840.7 309,844.9 310,844 311,844.3 312,842.8 313,847.1 314,838.7 315,847.4 316,844.2 317,844.5 318,844.4 319,843.9 320,844.3 321,843.2 322,843.5 323,842.7 324,843.7 325,846.9 326,843.8 327,844.4 328,844.2 329,844.2 330,844.3 331,843.8 332,843.1 333,843.1 334,843.6 335,838.3 336,841.1 337,843.3 338,843.4 339,843.1 340,840.2 341,843.3 342,843.6 343,844.1 344,844 345,844.2 346,847.7 347,839.6 348,844.2 349,843.2 350,843.2 351,840.8 352,841.9 353,841.5 354,841.1 355,839.5 356,839.7 357,840 358,839.5 359,839.1 360,839 361,839.1 362,839 363,843.1 364,839 365,839.3 366,839.5 367,838.7 368,839.9 369,839.7 370,836.9 371,843.9 372,839 373,841.4 374,842.6 375,839.4 376,838.5 377,834 378,835 378,838.1 379.5,837.5 381,837.7 382.6,837 384.1,837.4 385.6,837 387.1,837.4 388.6,837.4 390.2,837.6 391.7,838.6 393.2,837.8 394.7,836.2 396.2,837.8 397.8,837.4 399.3,837.2 400.8,837.3 402.3,837.2 403.8,836.9 405.4,837.1 406.9,837.5 408.4,837.8 409.9,837.3 411.4,837 413,837.4 414.5,837.1 416,836.8 417.5,837.6 419,837.1 420.5,836.8 422,835.2 423.5,837.4 425.1,837.4 426.6,837.1 428.1,836.8 429.6,835.2 431.1,837.2 432.6,837.1 434.1,837.9 435.6,837.7 437.1,836.6 438.6,836.1 440.2,836.5 441.7,836.6 443.2,836.7 444.7,836.8 446.2,837 447.7,837.1 449.2,836.7 450.7,837.6 452.2,837.4 453.7,836.4 455.3,836.5 456.8,837.5 458.3,837.1 459.8,836.7 461.3,836.4 462.8,836.8 464.3,836.4 465.8,836.8 467.4,836.6 468.9,836.3 470.4,836.2 471.9,836.9 473.4,837.3 474.9,836.7 476.5,836.1 478,835.9 479.5,833.6 481,836.5 482.5,836.8 484.1,836.4 485.6,837.3 487.1,836.9 488.6,836.9 490.1,837.1 491.6,836.7 493.2,836.7 494.7,836.2 496.2,836.6 497.8,836.7 499.4,836.7 500.9,837.1 502.5,836.6 504.1,836 505.7,836.1 507.2,835.6 508.8,835.9 510.4,835.8 512,835.2 513.5,834.5 515.1,835.8 516.7,835.2 518.3,835.7 519.8,835.6 521.4,835.4 523,835.3 524.5,834.5 526,834.3 527.5,834.2 529,834.1 530.5,834.2 532,834 533.5,834.2 535,834.2 536.5,835 538,834.8 539.5,834.7 541,834.4 542.5,833.8 544,833.9 545.5,833.2 547,833.6 548.5,834.1 550,834.7 551.5,834.4 553,834.5 554.5,834.4 556.1,834.3 557.6,833.6 559.1,834 560.6,833.9 562.1,834.1 563.6,834.2 565.1,833.8 566.6,833.4 568.1,833.7 569.6,833.8 571.1,833.9 572.6,833.8 574.1,834.3 575.6,834.1 577.1,833.8 578.6,833.4 580.1,832.9 581.6,833 583.1,833.1 584.6,833.3 586.1,833.5 587.6,833.8 589.1,833.7 590.6,833.8 592.1,834.2 593.6,833.9 595.1,833.6 596.6,834.1 598.2,833.9 599.7,834 601.2,835 602.7,834.2 604.2,833.9 605.7,834.8 607.2,834.7 608.7,834.4 610.2,835.1 611.7,835 613.2,835.5 614.7,834.9 616.3,835.3 617.8,835.2 619.3,834.9 620.8,834.9 622.3,834.9 623.8,835.5 625.3,835.6 626.8,835.2 628.3,834.6 629.8,834.8 631.3,835.2 632.8,835 634.4,835.6 635.9,832.8 637.4,836 638.9,835.8 640.4,835.3 641.9,835.6 643.4,835.9 644,833.9 644.5,832.2 646.1,832.4 647.7,832.1 649.3,832 650.8,832 652.4,832.1 654,832.4 655.6,833.1 655.6,832.2 660,654.5 663.4,688.3 664.6,688.4 665.9,688.1 667.1,688.1 668.4,688 669.6,688.3 670.9,688 672.1,687.8 673.4,687.9 674.6,688 675.7,687.5 676.8,686.8 677.9,685.8 679,685.2 680.2,689.3 681.5,685.8 682.7,685.6 683.9,685.5 685.1,685.6 686.4,685.8 687.6,685.8 688.8,685.3 690,685.4 691.3,685.6 692.5,685.7 693.7,685.2 694.9,685.5 696.2,685.2 697.4,689.2 698.6,685.3 699.8,685.2 701.1,685.1 702.3,681.6 702.5,683.6 702.7,683 703,681.8 703.2,680.9 703.4,679 704.7,678.7 705.9,678.5 707.2,678.9 708.5,679.2 709.7,679.2 711,679.8 712.3,679.7 713.5,678.6 714.8,678.4 716.1,678.6 717.3,678.5 718.6,678 719.9,677.9 721.1,678 722.4,678.1 723.3,679 724.2,679.5 725,680.2 725.9,680.6 726.8,682.1 728,682.2 729.3,678.5 730.5,682.5 731.8,682.1 733,682.3 734.3,682.5 735.5,682.7 736.8,683 738,682.3 739.2,682.2 740.5,682.4 741.7,683.2 742.9,683.2 744.1,683.5 745.4,683.5 746.6,684.1 747.8,684.7 749,684.3 750.2,684.1 751.5,684.5 752.7,684.5 753.9,685.2 755.1,685.3 756.4,684.9 757.6,685.3 758.8,685.6 760,688.7 761.3,686 762.5,686.1 763.7,686 765,685.6 766.2,682.3 767.4,685.9 768.6,684.9 769.9,684.7 771.1,685.1 772.3,685.4 773.5,681.2 774.8,685.5 776,681.6 777.2,684.6 778.4,685 779.6,684.7 780.8,684.4 782,684.9 783.2,685.6 784.3,685.1 785.5,682.5 786.7,685.7 787.9,686.2 789.1,686.1 790.3,686.6 791.5,686.8 792.7,687.5 794,686.5 795.2,687 796.5,687.3 797.7,687.3 798.9,687.4 800.2,687.2 801.4,687.1 802.7,687.6 803.9,687.7 805.1,687.8 806.4,688 807.6,687.6 808.9,687.4 810.1,687.2 811.4,687.1 812.6,686.9 813.8,686.9 815.1,686.7 816.3,686.7 817.6,686.6 818.8,687.1 820,686.9 821.3,687.6 822.5,683.6 823.8,687.2 825,686.7 825.7,686.4 826.5,685.7 827.2,685 828.4,685 829.6,685 830.8,685.1 832,685 833.2,684.4 834.4,684.5 835.6,684.6 836.8,685.2 838,685.6 839.2,685.3 840.4,685.5 841.6,685.5 842.9,685.2 844.1,685.8 845.3,685.6 846.5,685.8 847.7,685.5 848.9,685.2 850.1,685.7 851.3,686.3 852.5,687 853.7,686.6 854.9,687.1 856.1,690.2 857.3,687.4 858.5,687.3 859.7,687.2 860.9,687 862.1,686.7 863.3,683.8 864.5,687.4 865.7,689.8 866.9,687.3 868.1,691.2 869.3,686.5 870.5,687.1 871.7,686.8 872.9,686.6 874.1,687.1 875.3,687.2 876.5,687.4 877.7,687.3 878.9,688 880.1,687.5 881.4,687.4 882.6,690.9 883.8,687.9 885,689.9 886.2,687.1 887.4,686.9 888.6,687.5 889.8,687.4 891,687.7 892.2,687.3 893.4,687.4 894.6,687.3 895.8,687.1 897,687 898.2,687.2 899.4,687 900.6,687 901.8,687.6 903,687.7 904.2,687.5 905.5,687.9 906.7,688 908,688.1 909.2,687.6 910.4,687.8 911.7,687.5 912.9,687.1 914.2,686.8 915.4,687.4 916.6,687.9 917.9,687.8 919.1,691 920.4,687.9 921.6,688.1 922.9,688.3 924.1,688.7 925.3,685.2 926.6,688.8 927.8,691.8 929.1,688.5 930.3,688.2 931.5,688.8 932.8,688.3 934,685.9 935.3,687.9 936.5,685 937.7,687.8 939,687.4 940.2,687.9 941.5,688.4 942.7,688.5 943.9,688.1 945.2,688.7 946.4,688.5 947.6,685.4 948.9,689.3 950.1,689.2 951.4,688.8 952.6,688.5 953.8,688.8 955.1,689.2 956.3,689.2 957.6,685.9 958.8,689.3 958.8,690 959.8,689.6 960.8,690 961.8,694.2 962.8,686.8 963.8,694.4 964.9,696.5 965.9,691.2 966.9,690.6 967.9,689.8 968.9,691.3 969.9,692.4 970.9,692.5 971.9,691.3 972.9,691.8 973.9,692.4 974.9,688.6 976,696.8 977,696.5 978,692.1 979,695 980,690.9 981,691.5 982,692.2 983.1,692.7 984.1,695.8 985.2,692.1 986.2,688.1 987.3,698.9 988.3,693.8 989.4,692.5 990.4,699.3 991.5,693.4 992.5,698.5 993.6,694.1 994.6,689 995.7,693.3 996.7,692.6 997.6,687.5 998.6,691 999.5,691 1000.5,690.8 1001.4,690.7 1002.4,691.1 1003.3,689.8 1004.2,689.9 1005.2,691.5 1006.1,689.8 1007.1,689 1008,687.6 1008.7,687.6 1009.5,680.2 1010.2,685.7 1010.9,684.8 1011.7,683.6 1012.4,682.5 1013.1,681.7 1013.9,681.1 1014.6,679.6 1014.6,681.3 1014.6,754.9" fill="none" stroke="#0000ff" stroke-width="2.4" stroke-linejoin="round"/>
<rect x="512.6" y="837.5" width="528.8" height="120.6" fill="none" stroke="#262626" stroke-width="2.1"/>
<line x1="529.6" y1="871.3" x2="654.3" y2="871.3" stroke="#0000ff" stroke-width="2.1"/>
<line x1="529.6" y1="924.4" x2="570.8" y2="924.4" stroke="#ff00ff" stroke-width="2.1"/>
<line x1="596.3" y1="924.4" x2="637.7" y2="924.4" stroke="#ff00ff" stroke-width="2.1"/>
<text x="666.9" y="883.7" font-size="39.7" fill="#000" stroke="#000" stroke-width="0.45" textLength="285.1" lengthAdjust="spacingAndGlyphs">Pitch (degrees)</text>
<text x="666.9" y="936.6" font-size="39.7" fill="#000" stroke="#000" stroke-width="0.45" textLength="354.7" lengthAdjust="spacingAndGlyphs">Pitch Control (mm)</text>
<line x1="1589.8" y1="654.5" x2="1589.8" y2="1000.5" stroke="#262626" stroke-width="2.1" stroke-opacity="0.15"/>
<line x1="1851.2" y1="654.5" x2="1851.2" y2="1000.5" stroke="#262626" stroke-width="2.1" stroke-opacity="0.15"/>
<line x1="2112.5" y1="654.5" x2="2112.5" y2="1000.5" stroke="#262626" stroke-width="2.1" stroke-opacity="0.15"/>
<line x1="1328.5" y1="654.5" x2="2112.5" y2="654.5" stroke="#000000" stroke-width="2.1" stroke-opacity="0.15"/>
<line x1="1328.5" y1="683.3" x2="2112.5" y2="683.3" stroke="#000000" stroke-width="2.1" stroke-opacity="0.15"/>
<line x1="1328.5" y1="712.2" x2="2112.5" y2="712.2" stroke="#000000" stroke-width="2.1" stroke-opacity="0.15"/>
<line x1="1328.5" y1="741" x2="2112.5" y2="741" stroke="#000000" stroke-width="2.1" stroke-opacity="0.15"/>
<line x1="1328.5" y1="769.8" x2="2112.5" y2="769.8" stroke="#000000" stroke-width="2.1" stroke-opacity="0.15"/>
<line x1="1328.5" y1="798.7" x2="2112.5" y2="798.7" stroke="#000000" stroke-width="2.1" stroke-opacity="0.15"/>
<line x1="1328.5" y1="827.5" x2="2112.5" y2="827.5" stroke="#000000" stroke-width="2.1" stroke-opacity="0.15"/>
<line x1="1328.5" y1="856.3" x2="2112.5" y2="856.3" stroke="#000000" stroke-width="2.1" stroke-opacity="0.15"/>
<line x1="1328.5" y1="885.2" x2="2112.5" y2="885.2" stroke="#000000" stroke-width="2.1" stroke-opacity="0.15"/>
<line x1="1328.5" y1="914" x2="2112.5" y2="914" stroke="#000000" stroke-width="2.1" stroke-opacity="0.15"/>
<line x1="1328.5" y1="942.8" x2="2112.5" y2="942.8" stroke="#000000" stroke-width="2.1" stroke-opacity="0.15"/>
<line x1="1328.5" y1="971.7" x2="2112.5" y2="971.7" stroke="#000000" stroke-width="2.1" stroke-opacity="0.15"/>
<line x1="1328.5" y1="1000.5" x2="2112.5" y2="1000.5" stroke="#000000" stroke-width="2.1" stroke-opacity="0.15"/>
<line x1="1327.5" y1="1000.5" x2="2113.5" y2="1000.5" stroke="#262626" stroke-width="2.1"/>
<line x1="1328.5" y1="1000.5" x2="1328.5" y2="992.7" stroke="#262626" stroke-width="2.1"/>
<text x="1313.9" y="1058" font-size="44.2" fill="#262626" stroke="#262626" stroke-width="0.45" textLength="26.5" lengthAdjust="spacingAndGlyphs">0</text>
<line x1="1589.8" y1="1000.5" x2="1589.8" y2="992.7" stroke="#262626" stroke-width="2.1"/>
<text x="1548.8" y="1058" font-size="44.2" fill="#262626" stroke="#262626" stroke-width="0.45" textLength="79.5" lengthAdjust="spacingAndGlyphs">100</text>
<line x1="1851.2" y1="1000.5" x2="1851.2" y2="992.7" stroke="#262626" stroke-width="2.1"/>
<text x="1810.1" y="1058" font-size="44.2" fill="#262626" stroke="#262626" stroke-width="0.45" textLength="79.5" lengthAdjust="spacingAndGlyphs">200</text>
<line x1="2112.5" y1="1000.5" x2="2112.5" y2="992.7" stroke="#262626" stroke-width="2.1"/>
<text x="2071.4" y="1058" font-size="44.2" fill="#262626" stroke="#262626" stroke-width="0.45" textLength="79.5" lengthAdjust="spacingAndGlyphs">300</text>
<text x="1559.1" y="1116.5" font-size="44.2" fill="#262626" stroke="#262626" stroke-width="0.45" textLength="317.7" lengthAdjust="spacingAndGlyphs">Time (minutes)</text>
<line x1="1328.5" y1="653.5" x2="1328.5" y2="1001.5" stroke="#000" stroke-width="2.1"/>
<line x1="1328.5" y1="654.5" x2="1336.3" y2="654.5" stroke="#000" stroke-width="2.1"/>
<text x="1256" y="669" font-size="44.2" fill="#000" stroke="#000" stroke-width="0.45" textLength="53" lengthAdjust="spacingAndGlyphs">40</text>
<line x1="1328.5" y1="683.3" x2="1336.3" y2="683.3" stroke="#000" stroke-width="2.1"/>
<text x="1256" y="697.8" font-size="44.2" fill="#000" stroke="#000" stroke-width="0.45" textLength="53" lengthAdjust="spacingAndGlyphs">30</text>
<line x1="1328.5" y1="712.2" x2="1336.3" y2="712.2" stroke="#000" stroke-width="2.1"/>
<text x="1256" y="726.7" font-size="44.2" fill="#000" stroke="#000" stroke-width="0.45" textLength="53" lengthAdjust="spacingAndGlyphs">20</text>
<line x1="1328.5" y1="741" x2="1336.3" y2="741" stroke="#000" stroke-width="2.1"/>
<text x="1256" y="755.5" font-size="44.2" fill="#000" stroke="#000" stroke-width="0.45" textLength="53" lengthAdjust="spacingAndGlyphs">10</text>
<line x1="1328.5" y1="769.8" x2="1336.3" y2="769.8" stroke="#000" stroke-width="2.1"/>
<text x="1282.5" y="784.3" font-size="44.2" fill="#000" stroke="#000" stroke-width="0.45" textLength="26.5" lengthAdjust="spacingAndGlyphs">0</text>
<line x1="1328.5" y1="798.7" x2="1336.3" y2="798.7" stroke="#000" stroke-width="2.1"/>
<text x="1240.9" y="813.2" font-size="44.2" fill="#000" stroke="#000" stroke-width="0.45" textLength="68.1" lengthAdjust="spacingAndGlyphs">-10</text>
<line x1="1328.5" y1="827.5" x2="1336.3" y2="827.5" stroke="#000" stroke-width="2.1"/>
<text x="1240.9" y="842" font-size="44.2" fill="#000" stroke="#000" stroke-width="0.45" textLength="68.1" lengthAdjust="spacingAndGlyphs">-20</text>
<line x1="1328.5" y1="856.3" x2="1336.3" y2="856.3" stroke="#000" stroke-width="2.1"/>
<text x="1240.9" y="870.8" font-size="44.2" fill="#000" stroke="#000" stroke-width="0.45" textLength="68.1" lengthAdjust="spacingAndGlyphs">-30</text>
<line x1="1328.5" y1="885.2" x2="1336.3" y2="885.2" stroke="#000" stroke-width="2.1"/>
<text x="1240.9" y="899.7" font-size="44.2" fill="#000" stroke="#000" stroke-width="0.45" textLength="68.1" lengthAdjust="spacingAndGlyphs">-40</text>
<line x1="1328.5" y1="914" x2="1336.3" y2="914" stroke="#000" stroke-width="2.1"/>
<text x="1240.9" y="928.5" font-size="44.2" fill="#000" stroke="#000" stroke-width="0.45" textLength="68.1" lengthAdjust="spacingAndGlyphs">-50</text>
<line x1="1328.5" y1="942.8" x2="1336.3" y2="942.8" stroke="#000" stroke-width="2.1"/>
<text x="1240.9" y="957.3" font-size="44.2" fill="#000" stroke="#000" stroke-width="0.45" textLength="68.1" lengthAdjust="spacingAndGlyphs">-60</text>
<line x1="1328.5" y1="971.7" x2="1336.3" y2="971.7" stroke="#000" stroke-width="2.1"/>
<text x="1240.9" y="986.2" font-size="44.2" fill="#000" stroke="#000" stroke-width="0.45" textLength="68.1" lengthAdjust="spacingAndGlyphs">-70</text>
<line x1="1328.5" y1="1000.5" x2="1336.3" y2="1000.5" stroke="#000" stroke-width="2.1"/>
<text x="1240.9" y="1015" font-size="44.2" fill="#000" stroke="#000" stroke-width="0.45" textLength="68.1" lengthAdjust="spacingAndGlyphs">-80</text>
<text transform="translate(1215.1 827.5) rotate(-90)" x="-38.8" y="0" font-size="44.2" fill="#000" stroke="#000" stroke-width="0.45" textLength="77.6" lengthAdjust="spacingAndGlyphs">Roll</text>
<polyline points="1328.8,709.3 1330,879.4 1331.5,769.8 1332,775.5 1333.5,774 1335,773.3 1336.7,773.9 1337.4,830.4 1338.1,828.6 1339.2,782.5 1340.6,773.9 1341.1,773.9 1341.8,697.8 1342.5,699.9 1343.6,765.2 1345,773.9 1346.1,773.9 1346.8,830.4 1347.5,828.6 1348.6,782.5 1350,773.9 1350.4,773.9 1351.1,697.8 1351.8,699.9 1352.9,765.2 1354.3,773.9 1354.3,774.1 1356.7,773.9 1357.4,830.4 1358.1,828.6 1359.2,782.5 1360.6,773.9 1360.6,774 1362.2,773.9 1362.9,697.8 1363.6,699.9 1364.7,765.2 1366.1,773.9 1366.1,773.3 1367.3,773.9 1368,830.4 1368.7,828.6 1369.8,782.5 1371.2,773.9 1371.2,774.1 1372.4,773.9 1373.1,697.8 1373.8,699.9 1374.9,765.2 1376.3,773.9 1376.3,774 1378.1,773.9 1378.8,830.4 1379.5,828.6 1380.6,782.5 1382,773.9 1382,773.9 1383.5,773.9 1385,773.7 1386.5,774.4 1388.1,773.9 1388.8,844.8 1389.5,842.6 1390.6,782.5 1392,773.9 1392,774.4 1393.5,773.8 1395,773.7 1396.5,775.3 1398,774.4 1400.6,773.9 1401.3,844.8 1402,842.6 1403.1,782.5 1404.5,773.9 1404.5,774 1406,773.5 1407.5,774.3 1409,773.6 1410.5,773.4 1412,774 1413.5,773.5 1415,773.8 1416.5,774 1418,774.2 1419.5,774.4 1421,773.7 1422.5,773.7 1424,773.7 1425.5,774.3 1427,774.1 1428.5,774 1430,773.9 1431.5,774.1 1433,774.4 1434.3,773.9 1435,844.8 1435.7,842.6 1436.8,782.5 1438.2,773.9 1438.2,774 1439.7,774.1 1441.2,773.5 1442.7,773.7 1444.2,774.5 1445.7,773.4 1447.2,773.6 1448.7,773.7 1450.2,774.3 1451.7,773.9 1453.2,773.5 1454.7,774.4 1456.2,773.9 1457.7,773.3 1459.2,773.5 1460.7,774.7 1462.2,774.6 1463.7,773.6 1465.2,773.7 1466.7,774.1 1468.2,773.3 1469.7,773.5 1471.2,773.5 1472.7,773.3 1474.2,773.8 1475.7,772.9 1477.2,773.8 1478.7,773.5 1480.2,774.3 1481.7,773.5 1483.2,772.7 1484.7,774.2 1486.2,773.7 1488.4,773.9 1489.1,844.8 1489.8,842.6 1490.9,782.5 1492.3,773.9 1492.3,772.9 1493.8,774.6 1495.3,773.7 1496.8,775.1 1498.3,774.4 1499.8,774 1501.3,775.3 1502.8,773 1504.3,773.5 1505.8,773.8 1507.3,774.7 1508.8,773.7 1510.3,773.8 1511.8,774.8 1513.3,773.7 1514.8,773.5 1516.3,773.9 1517.8,773.8 1519.3,772.8 1520.8,773.3 1522.3,773.4 1523.8,773.3 1525.3,773.6 1526.8,773.3 1528.3,773.9 1529.8,774.2 1531.3,774.6 1532.8,773.7 1534.3,774 1535.8,773.9 1537.3,773.8 1538.8,773.5 1540.3,774.5 1541.8,773.6 1543.3,774.8 1544.8,773.5 1546.3,774.2 1548.7,773.9 1549.4,844.8 1550.1,842.6 1551.2,782.5 1552.6,773.9 1552.6,773.1 1554.1,773.6 1555.6,774.4 1557.1,774.4 1558.6,773.5 1560.1,774.2 1561.6,772.6 1563.1,773.7 1564.6,774.7 1566.1,773.8 1567.6,774.9 1569.1,774 1570.6,774.6 1572.1,774.2 1573.6,773.8 1575.1,774.2 1576.6,772.9 1578.1,773.8 1579.6,773.7 1581.1,773.3 1582.6,773.9 1584.1,773.1 1585.6,773.4 1587.1,774 1588.6,774.3 1590.1,774.5 1591.6,773.7 1593.1,773.3 1594.6,773 1596.1,774.4 1597.6,773.7 1599.1,773.6 1600.6,774.1 1602.1,773.2 1603.6,774 1605.1,774 1606.6,773.9 1608.1,773.9 1609.6,773.2 1611.1,773.5 1612.6,773.6 1613.8,773.9 1614.5,844.8 1615.2,842.6 1616.3,782.5 1617.7,773.9 1617.7,773.3 1619.2,773.9 1620.7,773.6 1622.2,773.3 1623.7,773.2 1625.2,774.3 1626.7,774.2 1628.2,773.3 1629.7,774.1 1631.2,773.7 1632.7,773.2 1634.2,773.3 1635.7,773.7 1637.2,773.5 1638.7,773.9 1640.2,773.6 1641.7,773.7 1643.2,774.2 1644.7,773.4 1646.2,774.1 1647.7,774.1 1649.2,773.3 1650.7,773.1 1652.2,774.6 1653.7,774.2 1655.2,773.8 1656.7,774.3 1658.2,774.4 1659.7,774 1661.2,773.6 1662.7,773 1664.2,774.2 1665.7,772.9 1667.2,773.5 1668.5,773.9 1669.2,844.8 1669.9,842.6 1671,782.5 1672.4,773.9 1672.4,774.2 1673.9,773.3 1675.4,773.4 1676.9,774.8 1678.4,773.8 1679.9,774.1 1681.4,773.7 1682.9,774.2 1684.4,774.2 1685.9,765 1687.4,764.7 1688.9,765.5 1690.4,765.4 1691.9,764.8 1693.4,765.5 1694.9,765.6 1696.4,766.4 1697.9,765.2 1699.6,765.5 1700.3,713.4 1701,715.1 1702.1,756.9 1703.5,765.5 1703.5,765.2 1705,766.3 1706.5,764.7 1708,765.2 1709.5,765.9 1711,765.3 1712.5,764.9 1714,765.8 1715.5,765.5 1717,766.1 1718.5,765.7 1720,765.9 1721.5,765.5 1723,765.3 1724.5,765.3 1726,765.5 1727.5,766.7 1729,764.3 1730.5,775.6 1732,775.8 1733.5,775.2 1735,775.6 1735.7,701 1736.4,703 1737.5,767 1738.9,775.6 1738.9,775.4 1740.4,774.5 1741.9,776.1 1743.4,775.2 1744.9,774.8 1746.4,775.8 1748.8,775.6 1749.5,710 1750.2,711.8 1751.3,767 1752.7,775.6 1752.7,776.1 1754.2,776.3 1755.7,775.2 1757.2,776.1 1758.7,775.8 1760.2,775.9 1761.7,774.9 1763.2,765.5 1763.9,700.7 1764.6,702.7 1765.7,756.9 1767.1,765.5 1767.1,765.3 1768.6,765.2 1770.1,766.1 1771.6,765.3 1773.1,766.3 1774.6,766.3 1776.1,766.1 1777.6,765.4 1779.1,765.8 1780.6,765.5 1782.1,764.8 1783.6,765 1785.1,766 1787.5,765.5 1788.2,704.8 1788.9,706.7 1790,756.9 1791.4,765.5 1791.4,765.3 1792.9,766.4 1794.4,765.3 1795.9,766 1797.4,765.9 1798.9,765.7 1800.1,765.5 1800.8,834.8 1801.5,832.8 1802.6,774.2 1804,765.5 1804,765.8 1805.5,765.8 1807,765.5 1808.5,765.3 1810,764.7 1811.5,766.4 1813.9,765.5 1814.6,704.3 1815.3,706.3 1816.4,756.9 1817.8,765.5 1817.8,766.4 1819.3,765.2 1820.8,765.5 1822.3,765.2 1823.8,765.6 1825.3,765.5 1826.8,765.7 1828.3,766.1 1829.8,766.3 1831.3,765.6 1832.8,764.4 1834.3,765.4 1835.8,765.6 1837.3,765.2 1838.8,765.7 1840.3,765.4 1841.8,765 1843.3,766.1 1844.8,764.6 1846.3,765.6 1847.8,765.9 1849.3,765 1850.8,766.1 1852.3,764.7 1853.6,765.5 1854.3,712.1 1855,713.8 1856.1,756.9 1857.5,765.5 1857.5,765.3 1859,766.2 1860.5,765.5 1861.2,833.7 1861.9,831.7 1863,774.2 1864.4,765.5 1864.4,765.8 1865.9,765.6 1867.4,766.5 1868.8,765.5 1869.5,706.8 1870.2,708.7 1871.3,756.9 1872.7,765.5 1872.7,765.2 1874.2,765.8 1876.1,765.5 1876.8,844.2 1877.5,842 1878.6,774.2 1880,765.5 1880,765.6 1881.5,764.8 1883.3,765.5 1884,709.5 1884.7,711.3 1885.8,756.9 1887.2,765.5 1887.2,765.3 1888.7,766.1 1890.2,765.2 1891.7,765.8 1893.2,764.9 1894.7,765.6 1896.3,765.5 1897,709.3 1897.7,711.1 1898.8,756.9 1900.2,765.5 1900.2,765.6 1901.7,765.6 1903.1,765.5 1903.8,848.6 1904.5,846.3 1905.6,774.2 1907,765.5 1907,765.6 1908.5,765.8 1911.1,765.5 1911.8,702.5 1912.5,704.6 1913.6,756.9 1915,765.5 1915,765.6 1916.5,766 1917.7,765.5 1918.4,842.7 1919.1,840.5 1920.2,774.2 1921.6,765.5 1921.6,765.7 1923.1,765.9 1924.6,765.2 1926,765.5 1926.7,713.2 1927.4,714.9 1928.5,756.9 1929.9,765.5 1930.3,765.5 1931,838.5 1931.7,836.4 1932.8,774.2 1934.2,765.5 1935,765.5 1935.7,709.3 1936.4,711.1 1937.5,756.9 1938.9,765.5 1939.3,765.5 1940,843.5 1940.7,841.3 1941.8,774.2 1943.2,765.5 1943.7,765.5 1944.4,711.6 1945.1,713.4 1946.2,756.9 1947.6,765.5 1948.4,765.5 1949.1,849.1 1949.8,846.7 1950.9,774.2 1952.3,765.5 1952.7,765.5 1953.4,714 1954.1,715.7 1955.2,756.9 1956.6,765.5 1956.6,766.2 1958.1,766.2 1959.6,765.3 1961.1,765.3 1962.9,765.5 1963.6,838.9 1964.3,836.8 1965.4,774.2 1966.8,765.5 1966.8,766.2 1968.3,765.3 1969.8,766.1 1971.3,765.3 1972.8,764.6 1974.3,764.7 1975.8,764.9 1977.3,765.5 1978,704.8 1978.7,706.8 1979.8,756.9 1981.2,765.5 1981.2,765.8 1982.7,765.3 1984.6,765.5 1985.3,700.8 1986,702.9 1987.1,756.9 1988.5,765.5 1988.5,765.7 1990,766 1992.5,765.5 1993.2,840.6 1993.9,838.5 1995,774.2 1996.4,765.5 1996.4,765.6 1997.9,765.2 1999.4,765.6 2001.9,765.5 2002.6,706.7 2003.3,708.6 2004.4,756.9 2005.8,765.5 2005.8,765.3 2007.3,766.6 2008.8,765.6 2010.3,764.7 2011.8,765.5 2014.2,765.5 2014.9,838.6 2015.6,836.6 2016.7,774.2 2018.1,765.5 2018.9,765.5 2019.6,711.5 2020.3,713.3 2021.4,756.9 2022.8,765.5 2023.6,765.5 2024.3,835 2025,833.1 2026.1,774.2 2027.5,765.5 2027.5,764.8 2029,766 2030.9,765.5 2031.6,836.9 2032.3,834.9 2033.4,774.2 2034.8,765.5 2034.8,765.4 2037,765.5 2037.7,706.1 2038.4,708 2039.5,756.9 2040.9,765.5 2040.6,765.5 2041.3,850.1 2042,847.7 2043.1,774.2 2044.5,765.5 2040,761.2 2043,755.4" fill="none" stroke="#0000ff" stroke-width="2.4" stroke-linejoin="round"/>
<polyline points="1328.5,769.8 1336.9,769.8 1336.9,870.8 1338.3,870.8 1338.3,769.8 1341.3,769.8 1341.3,654.5 1342.7,654.5 1342.7,769.8 1346.3,769.8 1346.3,870.8 1347.7,870.8 1347.7,769.8 1350.6,769.8 1350.6,654.5 1352,654.5 1352,769.8 1356.9,769.8 1356.9,870.8 1358.3,870.8 1358.3,769.8 1362.4,769.8 1362.4,654.5 1363.8,654.5 1363.8,769.8 1367.5,769.8 1367.5,870.8 1368.9,870.8 1368.9,769.8 1372.6,769.8 1372.6,654.5 1374,654.5 1374,769.8 1378.3,769.8 1378.3,870.8 1379.7,870.8 1379.7,769.8 1388.3,769.8 1388.3,885.2 1389.7,885.2 1389.7,769.8 1400.8,769.8 1400.8,885.2 1402.2,885.2 1402.2,769.8 1434.5,769.8 1434.5,885.2 1435.9,885.2 1435.9,769.8 1488.6,769.8 1488.6,885.2 1490,885.2 1490,769.8 1548.9,769.8 1548.9,885.2 1550.3,885.2 1550.3,769.8 1614,769.8 1614,885.2 1615.4,885.2 1615.4,769.8 1668.7,769.8 1668.7,885.2 1670.1,885.2 1670.1,769.8 1699.8,769.8 1699.8,654.5 1701.2,654.5 1701.2,769.8 1735.2,769.8 1735.2,654.5 1736.6,654.5 1736.6,769.8 1749,769.8 1749,654.5 1750.4,654.5 1750.4,769.8 1763.4,769.8 1763.4,654.5 1764.8,654.5 1764.8,769.8 1787.7,769.8 1787.7,654.5 1789.1,654.5 1789.1,769.8 1800.3,769.8 1800.3,885.2 1801.7,885.2 1801.7,769.8 1814.1,769.8 1814.1,654.5 1815.5,654.5 1815.5,769.8 1853.8,769.8 1853.8,654.5 1855.2,654.5 1855.2,769.8 1860.7,769.8 1860.7,885.2 1862.1,885.2 1862.1,769.8 1869,769.8 1869,654.5 1870.4,654.5 1870.4,769.8 1876.3,769.8 1876.3,885.2 1877.7,885.2 1877.7,769.8 1883.5,769.8 1883.5,654.5 1884.9,654.5 1884.9,769.8 1896.5,769.8 1896.5,654.5 1897.9,654.5 1897.9,769.8 1903.3,769.8 1903.3,885.2 1904.7,885.2 1904.7,769.8 1911.3,769.8 1911.3,654.5 1912.7,654.5 1912.7,769.8 1917.9,769.8 1917.9,885.2 1919.3,885.2 1919.3,769.8 1926.2,769.8 1926.2,654.5 1927.6,654.5 1927.6,769.8 1930.5,769.8 1930.5,885.2 1931.9,885.2 1931.9,769.8 1935.2,769.8 1935.2,654.5 1936.6,654.5 1936.6,769.8 1939.5,769.8 1939.5,885.2 1940.9,885.2 1940.9,769.8 1943.9,769.8 1943.9,654.5 1945.3,654.5 1945.3,769.8 1948.6,769.8 1948.6,885.2 1950,885.2 1950,769.8 1952.9,769.8 1952.9,654.5 1954.3,654.5 1954.3,769.8 1963.1,769.8 1963.1,885.2 1964.5,885.2 1964.5,769.8 1977.5,769.8 1977.5,654.5 1978.9,654.5 1978.9,769.8 1984.8,769.8 1984.8,654.5 1986.2,654.5 1986.2,769.8 1992.7,769.8 1992.7,885.2 1994.1,885.2 1994.1,769.8 2002.1,769.8 2002.1,654.5 2003.5,654.5 2003.5,769.8 2014.4,769.8 2014.4,885.2 2015.8,885.2 2015.8,769.8 2019.1,769.8 2019.1,654.5 2020.5,654.5 2020.5,769.8 2023.8,769.8 2023.8,885.2 2025.2,885.2 2025.2,769.8 2031.1,769.8 2031.1,885.2 2032.5,885.2 2032.5,769.8 2037.2,769.8 2037.2,654.5 2038.6,654.5 2038.6,769.8 2040.8,769.8 2040.8,885.2 2042.2,885.2 2042.2,769.8 2043,769.8" fill="none" stroke="#ff00ff" stroke-width="2.4" stroke-dasharray="41 25.5" stroke-linejoin="round"/>
<rect x="1487.6" y="837.4" width="583.2" height="120.5" fill="none" stroke="#262626" stroke-width="2.1"/>
<line x1="1503.8" y1="871.3" x2="1628" y2="871.3" stroke="#0000ff" stroke-width="2.1"/>
<line x1="1503.8" y1="924.3" x2="1545" y2="924.3" stroke="#ff00ff" stroke-width="2.1"/>
<line x1="1570.2" y1="924.3" x2="1611.7" y2="924.3" stroke="#ff00ff" stroke-width="2.1"/>
<text x="1639.4" y="883" font-size="39.7" fill="#000" stroke="#000" stroke-width="0.45" textLength="262.8" lengthAdjust="spacingAndGlyphs">Roll (degrees)</text>
<text x="1639.4" y="936.3" font-size="39.7" fill="#000" stroke="#000" stroke-width="0.45" textLength="411.1" lengthAdjust="spacingAndGlyphs">Roll Control (degrees)</text>
<line x1="564.1" y1="1179.5" x2="564.1" y2="1520.5" stroke="#262626" stroke-width="2.1" stroke-opacity="0.15"/>
<line x1="823.8" y1="1179.5" x2="823.8" y2="1520.5" stroke="#262626" stroke-width="2.1" stroke-opacity="0.15"/>
<line x1="1083.4" y1="1179.5" x2="1083.4" y2="1520.5" stroke="#262626" stroke-width="2.1" stroke-opacity="0.15"/>
<line x1="304.5" y1="1179.5" x2="1083.4" y2="1179.5" stroke="#000000" stroke-width="2.1" stroke-opacity="0.15"/>
<line x1="304.5" y1="1198.4" x2="1083.4" y2="1198.4" stroke="#000000" stroke-width="2.1" stroke-opacity="0.15"/>
<line x1="304.5" y1="1217.4" x2="1083.4" y2="1217.4" stroke="#000000" stroke-width="2.1" stroke-opacity="0.15"/>
<line x1="304.5" y1="1236.3" x2="1083.4" y2="1236.3" stroke="#000000" stroke-width="2.1" stroke-opacity="0.15"/>
<line x1="304.5" y1="1255.3" x2="1083.4" y2="1255.3" stroke="#000000" stroke-width="2.1" stroke-opacity="0.15"/>
<line x1="304.5" y1="1274.2" x2="1083.4" y2="1274.2" stroke="#000000" stroke-width="2.1" stroke-opacity="0.15"/>
<line x1="304.5" y1="1293.2" x2="1083.4" y2="1293.2" stroke="#000000" stroke-width="2.1" stroke-opacity="0.15"/>
<line x1="304.5" y1="1312.1" x2="1083.4" y2="1312.1" stroke="#000000" stroke-width="2.1" stroke-opacity="0.15"/>
<line x1="304.5" y1="1331.1" x2="1083.4" y2="1331.1" stroke="#000000" stroke-width="2.1" stroke-opacity="0.15"/>
<line x1="304.5" y1="1350" x2="1083.4" y2="1350" stroke="#000000" stroke-width="2.1" stroke-opacity="0.15"/>
<line x1="304.5" y1="1368.9" x2="1083.4" y2="1368.9" stroke="#000000" stroke-width="2.1" stroke-opacity="0.15"/>
<line x1="304.5" y1="1387.9" x2="1083.4" y2="1387.9" stroke="#000000" stroke-width="2.1" stroke-opacity="0.15"/>
<line x1="304.5" y1="1406.8" x2="1083.4" y2="1406.8" stroke="#000000" stroke-width="2.1" stroke-opacity="0.15"/>
<line x1="304.5" y1="1425.8" x2="1083.4" y2="1425.8" stroke="#000000" stroke-width="2.1" stroke-opacity="0.15"/>
<line x1="304.5" y1="1444.7" x2="1083.4" y2="1444.7" stroke="#000000" stroke-width="2.1" stroke-opacity="0.15"/>
<line x1="304.5" y1="1463.7" x2="1083.4" y2="1463.7" stroke="#000000" stroke-width="2.1" stroke-opacity="0.15"/>
<line x1="304.5" y1="1482.6" x2="1083.4" y2="1482.6" stroke="#000000" stroke-width="2.1" stroke-opacity="0.15"/>
<line x1="304.5" y1="1501.6" x2="1083.4" y2="1501.6" stroke="#000000" stroke-width="2.1" stroke-opacity="0.15"/>
<line x1="304.5" y1="1520.5" x2="1083.4" y2="1520.5" stroke="#000000" stroke-width="2.1" stroke-opacity="0.15"/>
<line x1="303.5" y1="1520.5" x2="1084.4" y2="1520.5" stroke="#262626" stroke-width="2.1"/>
<line x1="304.5" y1="1520.5" x2="304.5" y2="1512.7" stroke="#262626" stroke-width="2.1"/>
<text x="289.9" y="1579.3" font-size="44.2" fill="#262626" stroke="#262626" stroke-width="0.45" textLength="26.5" lengthAdjust="spacingAndGlyphs">0</text>
<line x1="564.1" y1="1520.5" x2="564.1" y2="1512.7" stroke="#262626" stroke-width="2.1"/>
<text x="523.1" y="1579.3" font-size="44.2" fill="#262626" stroke="#262626" stroke-width="0.45" textLength="79.5" lengthAdjust="spacingAndGlyphs">100</text>
<line x1="823.8" y1="1520.5" x2="823.8" y2="1512.7" stroke="#262626" stroke-width="2.1"/>
<text x="782.7" y="1579.3" font-size="44.2" fill="#262626" stroke="#262626" stroke-width="0.45" textLength="79.5" lengthAdjust="spacingAndGlyphs">200</text>
<line x1="1083.4" y1="1520.5" x2="1083.4" y2="1512.7" stroke="#262626" stroke-width="2.1"/>
<text x="1042.3" y="1579.3" font-size="44.2" fill="#262626" stroke="#262626" stroke-width="0.45" textLength="79.5" lengthAdjust="spacingAndGlyphs">300</text>
<text x="532.5" y="1637.8" font-size="44.2" fill="#262626" stroke="#262626" stroke-width="0.45" textLength="317.7" lengthAdjust="spacingAndGlyphs">Time (minutes)</text>
<line x1="304.5" y1="1178.5" x2="304.5" y2="1521.5" stroke="#000" stroke-width="2.1"/>
<line x1="304.5" y1="1179.5" x2="312.3" y2="1179.5" stroke="#000" stroke-width="2.1"/>
<text x="232" y="1194" font-size="44.2" fill="#000" stroke="#000" stroke-width="0.45" textLength="53" lengthAdjust="spacingAndGlyphs">80</text>
<line x1="304.5" y1="1198.4" x2="312.3" y2="1198.4" stroke="#000" stroke-width="2.1"/>
<text x="232" y="1212.9" font-size="44.2" fill="#000" stroke="#000" stroke-width="0.45" textLength="53" lengthAdjust="spacingAndGlyphs">70</text>
<line x1="304.5" y1="1217.4" x2="312.3" y2="1217.4" stroke="#000" stroke-width="2.1"/>
<text x="232" y="1231.9" font-size="44.2" fill="#000" stroke="#000" stroke-width="0.45" textLength="53" lengthAdjust="spacingAndGlyphs">60</text>
<line x1="304.5" y1="1236.3" x2="312.3" y2="1236.3" stroke="#000" stroke-width="2.1"/>
<text x="232" y="1250.8" font-size="44.2" fill="#000" stroke="#000" stroke-width="0.45" textLength="53" lengthAdjust="spacingAndGlyphs">50</text>
<line x1="304.5" y1="1255.3" x2="312.3" y2="1255.3" stroke="#000" stroke-width="2.1"/>
<text x="232" y="1269.8" font-size="44.2" fill="#000" stroke="#000" stroke-width="0.45" textLength="53" lengthAdjust="spacingAndGlyphs">40</text>
<line x1="304.5" y1="1274.2" x2="312.3" y2="1274.2" stroke="#000" stroke-width="2.1"/>
<text x="232" y="1288.7" font-size="44.2" fill="#000" stroke="#000" stroke-width="0.45" textLength="53" lengthAdjust="spacingAndGlyphs">30</text>
<line x1="304.5" y1="1293.2" x2="312.3" y2="1293.2" stroke="#000" stroke-width="2.1"/>
<text x="232" y="1307.7" font-size="44.2" fill="#000" stroke="#000" stroke-width="0.45" textLength="53" lengthAdjust="spacingAndGlyphs">20</text>
<line x1="304.5" y1="1312.1" x2="312.3" y2="1312.1" stroke="#000" stroke-width="2.1"/>
<text x="232" y="1326.6" font-size="44.2" fill="#000" stroke="#000" stroke-width="0.45" textLength="53" lengthAdjust="spacingAndGlyphs">10</text>
<line x1="304.5" y1="1331.1" x2="312.3" y2="1331.1" stroke="#000" stroke-width="2.1"/>
<text x="258.5" y="1345.6" font-size="44.2" fill="#000" stroke="#000" stroke-width="0.45" textLength="26.5" lengthAdjust="spacingAndGlyphs">0</text>
<line x1="304.5" y1="1350" x2="312.3" y2="1350" stroke="#000" stroke-width="2.1"/>
<text x="216.9" y="1364.5" font-size="44.2" fill="#000" stroke="#000" stroke-width="0.45" textLength="68.1" lengthAdjust="spacingAndGlyphs">-10</text>
<line x1="304.5" y1="1368.9" x2="312.3" y2="1368.9" stroke="#000" stroke-width="2.1"/>
<text x="216.9" y="1383.4" font-size="44.2" fill="#000" stroke="#000" stroke-width="0.45" textLength="68.1" lengthAdjust="spacingAndGlyphs">-20</text>
<line x1="304.5" y1="1387.9" x2="312.3" y2="1387.9" stroke="#000" stroke-width="2.1"/>
<text x="216.9" y="1402.4" font-size="44.2" fill="#000" stroke="#000" stroke-width="0.45" textLength="68.1" lengthAdjust="spacingAndGlyphs">-30</text>
<line x1="304.5" y1="1406.8" x2="312.3" y2="1406.8" stroke="#000" stroke-width="2.1"/>
<text x="216.9" y="1421.3" font-size="44.2" fill="#000" stroke="#000" stroke-width="0.45" textLength="68.1" lengthAdjust="spacingAndGlyphs">-40</text>
<line x1="304.5" y1="1425.8" x2="312.3" y2="1425.8" stroke="#000" stroke-width="2.1"/>
<text x="216.9" y="1440.3" font-size="44.2" fill="#000" stroke="#000" stroke-width="0.45" textLength="68.1" lengthAdjust="spacingAndGlyphs">-50</text>
<line x1="304.5" y1="1444.7" x2="312.3" y2="1444.7" stroke="#000" stroke-width="2.1"/>
<text x="216.9" y="1459.2" font-size="44.2" fill="#000" stroke="#000" stroke-width="0.45" textLength="68.1" lengthAdjust="spacingAndGlyphs">-60</text>
<line x1="304.5" y1="1463.7" x2="312.3" y2="1463.7" stroke="#000" stroke-width="2.1"/>
<text x="216.9" y="1478.2" font-size="44.2" fill="#000" stroke="#000" stroke-width="0.45" textLength="68.1" lengthAdjust="spacingAndGlyphs">-70</text>
<line x1="304.5" y1="1482.6" x2="312.3" y2="1482.6" stroke="#000" stroke-width="2.1"/>
<text x="216.9" y="1497.1" font-size="44.2" fill="#000" stroke="#000" stroke-width="0.45" textLength="68.1" lengthAdjust="spacingAndGlyphs">-80</text>
<line x1="304.5" y1="1501.6" x2="312.3" y2="1501.6" stroke="#000" stroke-width="2.1"/>
<text x="216.9" y="1516.1" font-size="44.2" fill="#000" stroke="#000" stroke-width="0.45" textLength="68.1" lengthAdjust="spacingAndGlyphs">-90</text>
<line x1="304.5" y1="1520.5" x2="312.3" y2="1520.5" stroke="#000" stroke-width="2.1"/>
<text x="190.4" y="1535" font-size="44.2" fill="#000" stroke="#000" stroke-width="0.45" textLength="94.6" lengthAdjust="spacingAndGlyphs">-100</text>
<text transform="translate(167 1351.6) rotate(-90)" x="-44.6" y="0" font-size="44.2" fill="#000" stroke="#000" stroke-width="0.45" textLength="89.2" lengthAdjust="spacingAndGlyphs">VBD</text>
<polyline points="308,1353.8 318,1353.2 354,1348.4 400,1347 654.4,1345.8 663.5,1314 978.2,1313.8 998,1301.9 1015,1301.9" fill="none" stroke="#ff00ff" stroke-width="2.4" stroke-linejoin="round"/>
<polyline points="304.3,1297.2 308.1,1347.8 655.3,1347.3 663.5,1314 978.2,1313.8 998,1301.9 1015,1301.9" fill="none" stroke="#00ffff" stroke-width="2.4" stroke-linejoin="round"/>
<polyline points="304,1331.7 304.1,1333.6 304.2,1335.1 304.3,1336.6 304.4,1337.8 304.5,1339.7 304.6,1341 304.7,1342.5 304.8,1344.2 304.9,1345.1 305.1,1346.2 305.2,1347.5 305.3,1349.3 305.4,1350.8 305.5,1352.4 305.6,1354.5 305.7,1355.9 305.8,1357.6 305.9,1359.2 306,1360.1 306.1,1361.6 306.3,1362.7 306.4,1364.7 306.6,1365.8 306.7,1368 306.9,1369.2 307,1370.9 307.2,1372.4 307.3,1374.9 307.5,1376.6 307.6,1378.1 310.8,1360.3 312.1,1362.3 313.4,1362.4 314.7,1363.8 316,1365.8 316.8,1364.7 317.7,1364.5 318.5,1361.7 319.3,1361.9 320.2,1361 321,1359.8 321.8,1356.9 322.7,1357.7 323.5,1358.3 324.9,1351.5 326.2,1354.1 327.6,1355 329,1354.1 330,1354.2 331,1355.9 332.1,1358.3 333.1,1355.8 334.1,1356.3 335.1,1358.6 336.1,1359.5 337.2,1359 338.2,1357.7 339.2,1359.5 340.2,1363.1 341.2,1363 342.3,1364.9 343.3,1368.6 344.3,1362.3 345.4,1363.7 346.6,1363.7 347.7,1361.9 348.8,1362.1 350,1361.9 351.1,1366.9 352.2,1365.7 353.4,1357.9 354.5,1359 355.6,1357.8 356.8,1359.2 357.9,1362.6 377.8,1357.7 379.6,1356.7 381.4,1355.8 382.9,1358.4 384.4,1354.7 385.9,1354.2 387.4,1354.1 388.9,1354.6 390.4,1354.2 391.9,1354.3 393.4,1353.6 394.9,1354.1 396.5,1353.3 398,1353.8 399.5,1353.9 401,1354 402.5,1353.7 404,1353.9 405.5,1353.2 407,1353.6 408.5,1353.4 410,1353.7 411.5,1353.6 413,1354.2 414.5,1354.3 416,1354.5 417.5,1354.3 419,1354.1 420.5,1355.1 422.1,1355 423.6,1355.5 425.1,1355 426.6,1354.6 428.1,1353.6 429.6,1353.9 431.1,1354.4 432.6,1354.2 434.1,1354.2 435.6,1353.9 437.1,1353.5 438.6,1353.2 440.1,1353.5 441.6,1353.8 443.1,1354.4 444.6,1354.1 446.1,1353.1 447.6,1353.4 449.1,1353.7 450.7,1353.3 452.2,1353.3 453.7,1352.5 455.2,1352.6 456.7,1352.9 458.2,1352.8 459.7,1353 461.2,1352.5 462.7,1352.5 464.2,1352.3 465.7,1352 467.2,1352.3 468.7,1352.3 470.2,1353.1 471.8,1352.9 473.3,1352.3 474.8,1356.4 476.3,1353 477.8,1352 479.3,1352.2 480.8,1352.2 482.3,1351.8 483.8,1351.4 485.3,1351.9 486.8,1352.6 488.3,1352.4 489.9,1353 491.4,1352.3 492.9,1352.3 494.4,1352.8 495.9,1352.1 497.4,1351.7 498.9,1351.4 500.4,1351.4 501.9,1352 503.4,1352.5 504.9,1351.9 506.4,1352.2 507.9,1352.3 509.5,1351.6 511,1351.9 512.5,1352.3 514,1352.5 515.5,1352.9 517,1353.3 518.5,1352.3 520,1351.3 521.5,1351.9 523,1351.9 524.5,1352 526,1351.5 527.5,1351.7 529,1351.7 530.5,1351.9 532.1,1351.7 533.6,1351.2 535.1,1351.6 536.6,1350.7 538.1,1351 539.6,1351.1 541.1,1351.4 542.6,1351.3 544.1,1351.7 545.6,1352.1 547.1,1352.7 548.6,1352.6 550.1,1352.5 551.6,1352 553.1,1352.2 554.6,1351.9 556.1,1352 557.7,1351.7 559.2,1351.1 560.7,1350.8 562.2,1351.1 563.7,1351.3 565.2,1350.9 566.7,1351.3 568.2,1351.1 569.7,1350.6 571.2,1350.7 572.7,1351.1 574.3,1350.9 575.8,1350.4 577.3,1354.3 578.8,1351.4 580.4,1351.8 581.9,1354.6 583.4,1351.1 585,1351.1 586.5,1350.5 588,1350.3 589.5,1350.9 591.1,1350.8 592.6,1351.2 594.1,1351 595.7,1351 597.2,1351 598.7,1351.3 600.2,1351.3 601.8,1351.6 603.3,1351.3 604.8,1350.4 606.4,1350.9 607.9,1350.9 609.4,1350.4 611,1350.6 612.5,1351 614,1351 615.5,1350.2 617.1,1350.5 618.6,1350.4 620.1,1350.8 621.7,1350.7 623.2,1351.1 624.7,1351.2 626.2,1350.8 627.8,1350.6 629.3,1350.2 630.8,1350.1 632.4,1350.1 633.9,1350.5 635.4,1350.5 636.9,1350.3 638.5,1350.7 640,1351.5 640.5,1350.1 640.9,1354.5 641.3,1355.6 641.8,1356.9 642.3,1355.7 642.9,1354.6 643.5,1352.9 644,1351.6 645.6,1347.8 647.2,1350.9 648.8,1350.4 650.5,1349.7 652.1,1349.1 653.7,1348.9 655.3,1349.4 663.5,1305.3 675.2,1302.5 676.7,1302.1 678.3,1303 679.8,1303.1 681.3,1302.8 682.9,1303 684.4,1303.6 685.9,1303.4 687.5,1303.7 689,1303.6 690.5,1303.6 692,1304 693.6,1303.8 695.1,1304.4 696.6,1303.9 698.2,1304.2 699.7,1304.4 701.1,1304.4 702.6,1303.9 704,1304.5 705.4,1305.3 706.8,1305.4 708.3,1305.9 709.7,1306.4 711.3,1302.5 712.8,1307.2 714.4,1306.4 716,1306.9 717.5,1306.9 719.1,1307.7 720.7,1307.5 722.2,1307.5 723.8,1307.4 725.4,1307.2 727,1307.8 728.5,1307.8 730.1,1307.4 731.7,1306.2 733.2,1305.7 734.8,1305 736.4,1306 737.9,1304.5 739.5,1304.6 741,1304.4 742.5,1304.2 744,1303.7 745.5,1304 747,1304.6 748.6,1305.8 750.1,1305.5 751.6,1306 753.1,1306.3 754.6,1306.1 756.1,1306.3 757.6,1306.4 759.1,1306.5 760.6,1306.4 762.1,1305.3 763.6,1305.6 765.2,1305.9 766.7,1305.5 768.2,1305.1 769.7,1305.1 771.2,1305.1 772.7,1304.9 774.2,1305.1 775.7,1305.7 777.2,1306.2 778.7,1306.2 780.2,1306.6 781.8,1307 783.3,1305.8 784.8,1305.5 786.3,1305.9 787.8,1306 789.3,1306.1 790.8,1306.6 792.4,1306.1 793.9,1306.6 795.4,1306.8 797,1306 798.5,1306.6 800,1306.4 801.5,1306.3 803.1,1305.9 804.6,1305.5 806.1,1306.7 807.7,1303.6 809.2,1306.2 810.7,1303.3 812.3,1306.8 813.8,1306.8 815.3,1307.2 816.9,1307.7 818.4,1307.9 819.9,1307.6 821.4,1307.8 823,1307.7 824.5,1308.1 826,1308.1 827.6,1308.5 829.1,1309.2 830.6,1309.2 832.2,1309.2 833.7,1308.6 835.2,1308.4 836.8,1308.4 838.3,1308.9 839.8,1307.8 841.3,1308.1 842.9,1307.8 844.4,1307.8 845.9,1307.6 847.5,1308.3 849,1308.3 850.5,1308.5 852.1,1308.3 853.6,1307.9 855.1,1307.9 856.6,1306.3 858.2,1306.5 859.7,1306.8 861.2,1306.8 862.7,1307.3 864.3,1307.7 865.8,1307.5 867.3,1307.5 868.9,1307.8 870.4,1308.5 871.9,1308.4 873.4,1308.5 875,1307.4 876.5,1307.5 878,1307.9 879.5,1307.8 881.1,1307.2 882.6,1307.6 884.1,1308.8 885.6,1308.5 887.2,1309.4 888.7,1309.2 890.2,1309.6 891.7,1309.3 893.2,1309.1 894.7,1309.7 896.2,1308.7 897.7,1309.2 899.2,1310 900.7,1310 902.3,1310.1 903.8,1310.5 905.3,1309.5 906.8,1312.1 908.3,1309 909.8,1309.2 911.3,1309.1 912.8,1309.3 914.3,1309.6 915.8,1310.3 917.3,1309.2 918.8,1309.1 920.3,1309.5 921.8,1309.1 923.3,1312.7 924.8,1308.6 926.4,1309.6 927.9,1309.9 929.4,1309.5 930.9,1309.6 932.4,1309.3 933.9,1310 935.4,1310.3 936.9,1310.5 938.4,1310.3 939.9,1310.1 941.5,1311 943,1310.6 944.5,1310.6 946.1,1310.1 947.6,1309.4 949.1,1309.9 950.6,1310.5 952.2,1310.8 953.7,1310.6 955.2,1310.4 956.8,1311.6 958.3,1311.1 959.8,1310.9 961.4,1311.2 962.9,1311.5 964.4,1311.9 966,1312.1 967.5,1312.6 969,1312.5 970.5,1312 972.1,1312.2 973.6,1312.6 975.1,1311.9 976.7,1312.2 978.2,1312.3 978.2,1312.6 979.5,1312.2 980.7,1310.6 982,1312.5 983.2,1310.2 984.5,1309.8 985.7,1311 987,1312 988.2,1312.4 989.4,1311.9 990.6,1311.9 991.7,1313.4 992.9,1312.3 994.1,1310.9 995.3,1308.6 996.5,1308.5 997.6,1311.5 998.8,1308.5 1000,1309.3 1001.2,1309.3 1002.5,1313.2 1003.8,1303.5 1005,1307.8 1006.2,1305.2 1007.5,1305.8 1008.8,1305.4 1010,1303.6 1011.2,1303.6 1012.5,1297.7 1013.8,1295.5 1015,1306.9 1015,1324.8" fill="none" stroke="#0000ff" stroke-width="2.4" stroke-linejoin="round"/>
<rect x="549.2" y="1308.6" width="492.3" height="170.3" fill="none" stroke="#262626" stroke-width="2.1"/>
<line x1="566.7" y1="1341.4" x2="691.2" y2="1341.4" stroke="#0000ff" stroke-width="2.1"/>
<line x1="566.7" y1="1393.5" x2="691.2" y2="1393.5" stroke="#ff00ff" stroke-width="2.1"/>
<line x1="566.7" y1="1445.1" x2="691.2" y2="1445.1" stroke="#00ffff" stroke-width="2.1"/>
<text x="703.5" y="1353.6" font-size="39.7" fill="#000" stroke="#000" stroke-width="0.45" textLength="317.5" lengthAdjust="spacingAndGlyphs">W = dz/dt (cm/s)</text>
<text x="703.5" y="1405.3" font-size="39.7" fill="#000" stroke="#000" stroke-width="0.45" textLength="296.9" lengthAdjust="spacingAndGlyphs">Buoyancy (10g)</text>
<text x="703.5" y="1457" font-size="39.7" fill="#000" stroke="#000" stroke-width="0.45" textLength="222.3" lengthAdjust="spacingAndGlyphs">VBD (10 cc)</text>
<line x1="1589.8" y1="1179.5" x2="1589.8" y2="1520.5" stroke="#262626" stroke-width="2.1" stroke-opacity="0.15"/>
<line x1="1851.2" y1="1179.5" x2="1851.2" y2="1520.5" stroke="#262626" stroke-width="2.1" stroke-opacity="0.15"/>
<line x1="2112.5" y1="1179.5" x2="2112.5" y2="1520.5" stroke="#262626" stroke-width="2.1" stroke-opacity="0.15"/>
<line x1="1328.5" y1="1179.5" x2="2112.5" y2="1179.5" stroke="#000000" stroke-width="2.1" stroke-opacity="0.15"/>
<line x1="1328.5" y1="1198.4" x2="2112.5" y2="1198.4" stroke="#000000" stroke-width="2.1" stroke-opacity="0.15"/>
<line x1="1328.5" y1="1217.4" x2="2112.5" y2="1217.4" stroke="#000000" stroke-width="2.1" stroke-opacity="0.15"/>
<line x1="1328.5" y1="1236.3" x2="2112.5" y2="1236.3" stroke="#000000" stroke-width="2.1" stroke-opacity="0.15"/>
<line x1="1328.5" y1="1255.3" x2="2112.5" y2="1255.3" stroke="#000000" stroke-width="2.1" stroke-opacity="0.15"/>
<line x1="1328.5" y1="1274.2" x2="2112.5" y2="1274.2" stroke="#000000" stroke-width="2.1" stroke-opacity="0.15"/>
<line x1="1328.5" y1="1293.2" x2="2112.5" y2="1293.2" stroke="#000000" stroke-width="2.1" stroke-opacity="0.15"/>
<line x1="1328.5" y1="1312.1" x2="2112.5" y2="1312.1" stroke="#000000" stroke-width="2.1" stroke-opacity="0.15"/>
<line x1="1328.5" y1="1331.1" x2="2112.5" y2="1331.1" stroke="#000000" stroke-width="2.1" stroke-opacity="0.15"/>
<line x1="1328.5" y1="1350" x2="2112.5" y2="1350" stroke="#000000" stroke-width="2.1" stroke-opacity="0.15"/>
<line x1="1328.5" y1="1368.9" x2="2112.5" y2="1368.9" stroke="#000000" stroke-width="2.1" stroke-opacity="0.15"/>
<line x1="1328.5" y1="1387.9" x2="2112.5" y2="1387.9" stroke="#000000" stroke-width="2.1" stroke-opacity="0.15"/>
<line x1="1328.5" y1="1406.8" x2="2112.5" y2="1406.8" stroke="#000000" stroke-width="2.1" stroke-opacity="0.15"/>
<line x1="1328.5" y1="1425.8" x2="2112.5" y2="1425.8" stroke="#000000" stroke-width="2.1" stroke-opacity="0.15"/>
<line x1="1328.5" y1="1444.7" x2="2112.5" y2="1444.7" stroke="#000000" stroke-width="2.1" stroke-opacity="0.15"/>
<line x1="1328.5" y1="1463.7" x2="2112.5" y2="1463.7" stroke="#000000" stroke-width="2.1" stroke-opacity="0.15"/>
<line x1="1328.5" y1="1482.6" x2="2112.5" y2="1482.6" stroke="#000000" stroke-width="2.1" stroke-opacity="0.15"/>
<line x1="1328.5" y1="1501.6" x2="2112.5" y2="1501.6" stroke="#000000" stroke-width="2.1" stroke-opacity="0.15"/>
<line x1="1328.5" y1="1520.5" x2="2112.5" y2="1520.5" stroke="#000000" stroke-width="2.1" stroke-opacity="0.15"/>
<line x1="1327.5" y1="1520.5" x2="2113.5" y2="1520.5" stroke="#262626" stroke-width="2.1"/>
<line x1="1328.5" y1="1520.5" x2="1328.5" y2="1512.7" stroke="#262626" stroke-width="2.1"/>
<text x="1313.9" y="1579.3" font-size="44.2" fill="#262626" stroke="#262626" stroke-width="0.45" textLength="26.5" lengthAdjust="spacingAndGlyphs">0</text>
<line x1="1589.8" y1="1520.5" x2="1589.8" y2="1512.7" stroke="#262626" stroke-width="2.1"/>
<text x="1548.8" y="1579.3" font-size="44.2" fill="#262626" stroke="#262626" stroke-width="0.45" textLength="79.5" lengthAdjust="spacingAndGlyphs">100</text>
<line x1="1851.2" y1="1520.5" x2="1851.2" y2="1512.7" stroke="#262626" stroke-width="2.1"/>
<text x="1810.1" y="1579.3" font-size="44.2" fill="#262626" stroke="#262626" stroke-width="0.45" textLength="79.5" lengthAdjust="spacingAndGlyphs">200</text>
<line x1="2112.5" y1="1520.5" x2="2112.5" y2="1512.7" stroke="#262626" stroke-width="2.1"/>
<text x="2071.4" y="1579.3" font-size="44.2" fill="#262626" stroke="#262626" stroke-width="0.45" textLength="79.5" lengthAdjust="spacingAndGlyphs">300</text>
<text x="1559.1" y="1637.8" font-size="44.2" fill="#262626" stroke="#262626" stroke-width="0.45" textLength="317.7" lengthAdjust="spacingAndGlyphs">Time (minutes)</text>
<line x1="1328.5" y1="1178.5" x2="1328.5" y2="1521.5" stroke="#000" stroke-width="2.1"/>
<line x1="1328.5" y1="1179.5" x2="1336.3" y2="1179.5" stroke="#000" stroke-width="2.1"/>
<text x="1256" y="1194" font-size="44.2" fill="#000" stroke="#000" stroke-width="0.45" textLength="53" lengthAdjust="spacingAndGlyphs">80</text>
<line x1="1328.5" y1="1198.4" x2="1336.3" y2="1198.4" stroke="#000" stroke-width="2.1"/>
<text x="1256" y="1212.9" font-size="44.2" fill="#000" stroke="#000" stroke-width="0.45" textLength="53" lengthAdjust="spacingAndGlyphs">70</text>
<line x1="1328.5" y1="1217.4" x2="1336.3" y2="1217.4" stroke="#000" stroke-width="2.1"/>
<text x="1256" y="1231.9" font-size="44.2" fill="#000" stroke="#000" stroke-width="0.45" textLength="53" lengthAdjust="spacingAndGlyphs">60</text>
<line x1="1328.5" y1="1236.3" x2="1336.3" y2="1236.3" stroke="#000" stroke-width="2.1"/>
<text x="1256" y="1250.8" font-size="44.2" fill="#000" stroke="#000" stroke-width="0.45" textLength="53" lengthAdjust="spacingAndGlyphs">50</text>
<line x1="1328.5" y1="1255.3" x2="1336.3" y2="1255.3" stroke="#000" stroke-width="2.1"/>
<text x="1256" y="1269.8" font-size="44.2" fill="#000" stroke="#000" stroke-width="0.45" textLength="53" lengthAdjust="spacingAndGlyphs">40</text>
<line x1="1328.5" y1="1274.2" x2="1336.3" y2="1274.2" stroke="#000" stroke-width="2.1"/>
<text x="1256" y="1288.7" font-size="44.2" fill="#000" stroke="#000" stroke-width="0.45" textLength="53" lengthAdjust="spacingAndGlyphs">30</text>
<line x1="1328.5" y1="1293.2" x2="1336.3" y2="1293.2" stroke="#000" stroke-width="2.1"/>
<text x="1256" y="1307.7" font-size="44.2" fill="#000" stroke="#000" stroke-width="0.45" textLength="53" lengthAdjust="spacingAndGlyphs">20</text>
<line x1="1328.5" y1="1312.1" x2="1336.3" y2="1312.1" stroke="#000" stroke-width="2.1"/>
<text x="1256" y="1326.6" font-size="44.2" fill="#000" stroke="#000" stroke-width="0.45" textLength="53" lengthAdjust="spacingAndGlyphs">10</text>
<line x1="1328.5" y1="1331.1" x2="1336.3" y2="1331.1" stroke="#000" stroke-width="2.1"/>
<text x="1282.5" y="1345.6" font-size="44.2" fill="#000" stroke="#000" stroke-width="0.45" textLength="26.5" lengthAdjust="spacingAndGlyphs">0</text>
<line x1="1328.5" y1="1350" x2="1336.3" y2="1350" stroke="#000" stroke-width="2.1"/>
<text x="1240.9" y="1364.5" font-size="44.2" fill="#000" stroke="#000" stroke-width="0.45" textLength="68.1" lengthAdjust="spacingAndGlyphs">-10</text>
<line x1="1328.5" y1="1368.9" x2="1336.3" y2="1368.9" stroke="#000" stroke-width="2.1"/>
<text x="1240.9" y="1383.4" font-size="44.2" fill="#000" stroke="#000" stroke-width="0.45" textLength="68.1" lengthAdjust="spacingAndGlyphs">-20</text>
<line x1="1328.5" y1="1387.9" x2="1336.3" y2="1387.9" stroke="#000" stroke-width="2.1"/>
<text x="1240.9" y="1402.4" font-size="44.2" fill="#000" stroke="#000" stroke-width="0.45" textLength="68.1" lengthAdjust="spacingAndGlyphs">-30</text>
<line x1="1328.5" y1="1406.8" x2="1336.3" y2="1406.8" stroke="#000" stroke-width="2.1"/>
<text x="1240.9" y="1421.3" font-size="44.2" fill="#000" stroke="#000" stroke-width="0.45" textLength="68.1" lengthAdjust="spacingAndGlyphs">-40</text>
<line x1="1328.5" y1="1425.8" x2="1336.3" y2="1425.8" stroke="#000" stroke-width="2.1"/>
<text x="1240.9" y="1440.3" font-size="44.2" fill="#000" stroke="#000" stroke-width="0.45" textLength="68.1" lengthAdjust="spacingAndGlyphs">-50</text>
<line x1="1328.5" y1="1444.7" x2="1336.3" y2="1444.7" stroke="#000" stroke-width="2.1"/>
<text x="1240.9" y="1459.2" font-size="44.2" fill="#000" stroke="#000" stroke-width="0.45" textLength="68.1" lengthAdjust="spacingAndGlyphs">-60</text>
<line x1="1328.5" y1="1463.7" x2="1336.3" y2="1463.7" stroke="#000" stroke-width="2.1"/>
<text x="1240.9" y="1478.2" font-size="44.2" fill="#000" stroke="#000" stroke-width="0.45" textLength="68.1" lengthAdjust="spacingAndGlyphs">-70</text>
<line x1="1328.5" y1="1482.6" x2="1336.3" y2="1482.6" stroke="#000" stroke-width="2.1"/>
<text x="1240.9" y="1497.1" font-size="44.2" fill="#000" stroke="#000" stroke-width="0.45" textLength="68.1" lengthAdjust="spacingAndGlyphs">-80</text>
<line x1="1328.5" y1="1501.6" x2="1336.3" y2="1501.6" stroke="#000" stroke-width="2.1"/>
<text x="1240.9" y="1516.1" font-size="44.2" fill="#000" stroke="#000" stroke-width="0.45" textLength="68.1" lengthAdjust="spacingAndGlyphs">-90</text>
<line x1="1328.5" y1="1520.5" x2="1336.3" y2="1520.5" stroke="#000" stroke-width="2.1"/>
<text x="1214.4" y="1535" font-size="44.2" fill="#000" stroke="#000" stroke-width="0.45" textLength="94.6" lengthAdjust="spacingAndGlyphs">-100</text>
<text transform="translate(1192.2 1351.6) rotate(-90)" x="-65.3" y="0" font-size="44.2" fill="#000" stroke="#000" stroke-width="0.45" textLength="130.6" lengthAdjust="spacingAndGlyphs">Speed</text>
<polyline points="1332.7,1304.2 1332.7,1279.8 1343.5,1281" fill="none" stroke="#00ffff" stroke-width="2.4" stroke-linejoin="round"/>
<polyline points="1363.4,1283.5 1380,1286.5 1390,1289 1401.4,1289.8" fill="none" stroke="#00ffff" stroke-width="2.4" stroke-linejoin="round"/>
<polyline points="1425.8,1290.7 1466.5,1291.6" fill="none" stroke="#00ffff" stroke-width="2.4" stroke-linejoin="round"/>
<polyline points="1491.4,1291.8 1532.5,1292" fill="none" stroke="#00ffff" stroke-width="2.4" stroke-linejoin="round"/>
<polyline points="1557.8,1292.5 1598.5,1292.5" fill="none" stroke="#00ffff" stroke-width="2.4" stroke-linejoin="round"/>
<polyline points="1624.7,1292.9 1665.4,1292.9" fill="none" stroke="#00ffff" stroke-width="2.4" stroke-linejoin="round"/>
<polyline points="1333,1374.8 1333,1416.5" fill="none" stroke="#0000ff" stroke-width="2.4" stroke-linejoin="round"/>
<polyline points="1335.4,1364.6 1336.9,1364.6 1338.4,1364.5 1339.9,1364.6 1341.4,1364.9 1342.9,1364.5 1344.4,1364.6 1345.9,1363.8 1347.5,1363.3 1349,1362.6 1350.5,1363 1352,1362.5 1353.5,1362.4 1355,1362.8 1356.5,1362.1 1358,1361.8 1359.5,1361.6 1361,1361.3 1362.5,1360.6 1364,1361 1365.5,1361.3 1367,1360.9 1368.5,1360.4 1370.1,1360.3 1371.6,1360.5 1373.1,1360 1374.6,1360.2 1376.1,1360 1377.6,1359.3 1379.1,1359.8 1380.6,1359.3" fill="none" stroke="#0000ff" stroke-width="2.4" stroke-linejoin="round"/>
<polyline points="1399.6,1356.8 1401.2,1356.1 1402.7,1356.4 1404.3,1356.2 1405.8,1356.2 1407.4,1356.5 1409,1356.1 1410.5,1355.7 1412.1,1355.5 1413.6,1355.7 1415.2,1355.4 1416.8,1355.5 1418.3,1355.3 1419.9,1355.3 1421.4,1355.6 1423,1355.3 1424.5,1355.1 1426.1,1355.4 1427.7,1355.8 1429.2,1355.5 1430.8,1355.4 1432.3,1355.9 1433.9,1356.2" fill="none" stroke="#0000ff" stroke-width="2.4" stroke-linejoin="round"/>
<polyline points="1456.5,1354.5 1458,1354.4 1459.6,1354.2 1461.1,1353.8 1462.7,1354.2 1464.2,1354.2 1465.8,1354.2 1467.3,1354.3 1468.9,1354.4 1470.4,1354 1472,1354.3 1473.5,1354.6 1475,1354.7 1476.6,1355.5 1478.1,1355.7 1479.7,1355.2 1481.2,1354.1 1482.8,1354.4 1484.3,1354 1485.9,1353.9 1487.4,1353.8 1489,1353.7 1490.5,1353.6 1492.1,1354 1493.6,1353.6" fill="none" stroke="#0000ff" stroke-width="2.4" stroke-linejoin="round"/>
<polyline points="1518.9,1353.8 1520.5,1353.3 1522,1353.3 1523.6,1353.6 1525.1,1353.6 1526.7,1353.8 1528.2,1353.9 1529.8,1353.4 1531.3,1353.1 1532.9,1353.7 1534.5,1353.6 1536,1353.7 1537.6,1354.1 1539.1,1353.8 1540.7,1353.7 1542.2,1353.7 1543.8,1353.7 1545.4,1353.9 1546.9,1353.7 1548.5,1354.6 1550,1354.1 1551.6,1354 1553.1,1353.7 1554.7,1354 1556.2,1353.4 1557.8,1354" fill="none" stroke="#0000ff" stroke-width="2.4" stroke-linejoin="round"/>
<polyline points="1583.1,1353 1584.6,1353.2 1586.2,1353.2 1587.7,1353.2 1589.2,1352.5 1590.8,1352.7 1592.3,1353.5 1593.8,1353.3 1595.3,1353.4 1596.9,1354.2 1598.4,1353.8 1599.9,1353.8 1601.5,1353.4 1603,1352.6 1604.5,1352.6 1606.1,1353.1 1607.6,1352.4 1609.1,1352.3 1610.7,1353.3 1612.2,1353.1 1613.7,1353.2 1615.2,1352.9 1616.8,1352.7 1618.3,1352.7 1619.8,1353.1 1621.4,1352.6 1622.9,1353" fill="none" stroke="#0000ff" stroke-width="2.4" stroke-linejoin="round"/>
<polyline points="1648.2,1352.6 1649.7,1352.9 1651.2,1352.4 1652.8,1352.7 1654.3,1352.6 1655.8,1352.1 1657.3,1351.9 1658.9,1352.7 1660.4,1353.3 1661.9,1353.5 1663.4,1353 1665,1352.7 1666.5,1352.4 1668,1351.7 1669.5,1352.5 1671,1352.5 1672.6,1352 1674.1,1352.2 1675.6,1352.2 1677.1,1352.5 1678.7,1352.1 1680.2,1352.3 1681.7,1352.3" fill="none" stroke="#0000ff" stroke-width="2.4" stroke-linejoin="round"/>
<rect x="1445.1" y="1358.8" width="625.5" height="120.5" fill="none" stroke="#262626" stroke-width="2.1"/>
<line x1="1462.9" y1="1392.1" x2="1503.5" y2="1392.1" stroke="#0000ff" stroke-width="2.1"/>
<line x1="1529.8" y1="1392.1" x2="1570.5" y2="1392.1" stroke="#0000ff" stroke-width="2.1"/>
<line x1="1462.9" y1="1445.4" x2="1503.5" y2="1445.4" stroke="#00ffff" stroke-width="2.1"/>
<line x1="1529.8" y1="1445.4" x2="1570.5" y2="1445.4" stroke="#00ffff" stroke-width="2.1"/>
<text x="1600.5" y="1404.2" font-size="39.7" fill="#000" stroke="#000" stroke-width="0.45" textLength="435.5" lengthAdjust="spacingAndGlyphs">Vert Speed(buoy,pitch)</text>
<text x="1600.5" y="1457.5" font-size="39.7" fill="#000" stroke="#000" stroke-width="0.45" textLength="453.3" lengthAdjust="spacingAndGlyphs">Horiz Speed(buoy,pitch)</text>
</svg>
</body></html>
